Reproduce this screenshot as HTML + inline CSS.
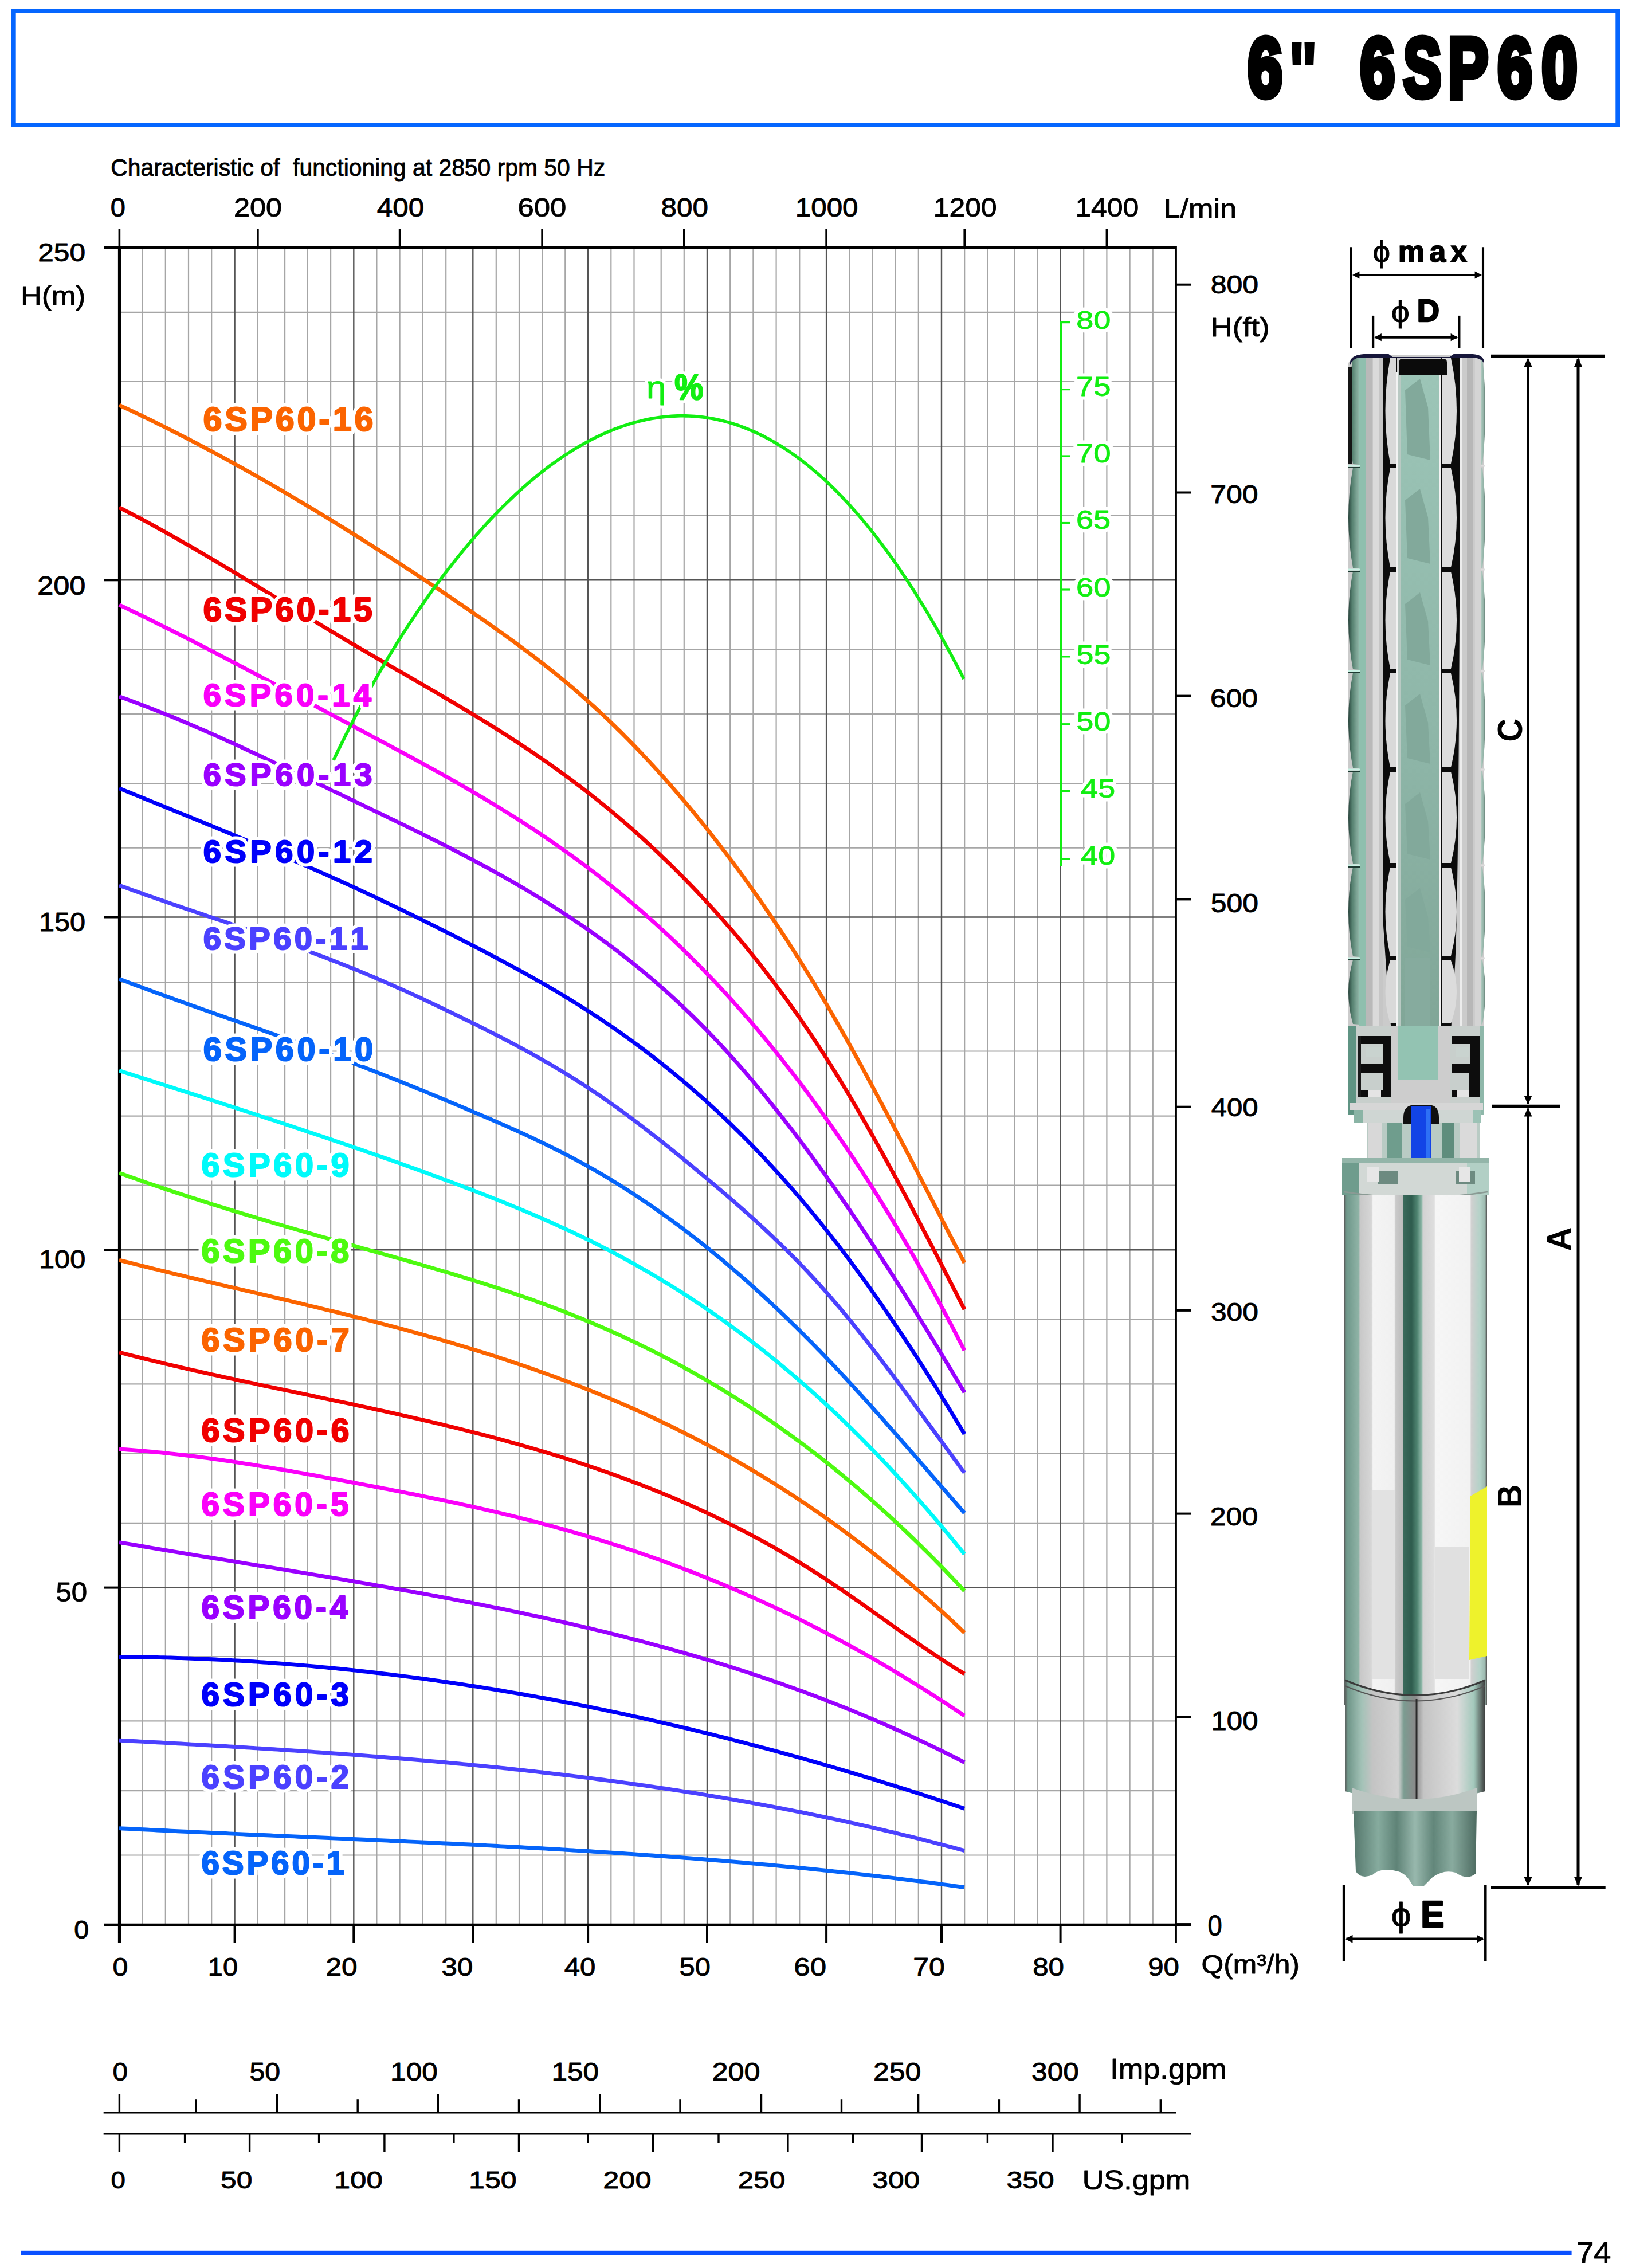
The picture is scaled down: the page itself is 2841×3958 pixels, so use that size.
<!DOCTYPE html>
<html><head><meta charset="utf-8"><title>6" 6SP60</title>
<style>html,body{margin:0;padding:0;background:#fff}svg{display:block}text{font-kerning:none}</style>
</head><body>
<svg xmlns="http://www.w3.org/2000/svg" width="2841" height="3958" viewBox="0 0 2841 3958">
<rect width="2841" height="3958" fill="#fff"/>
<rect x="23.85" y="18.95" width="2799.3" height="199.1" fill="none" stroke="#0566ff" stroke-width="7.7"/>
<line x1="248.7" y1="431.9" x2="248.7" y2="3359" stroke="#a6a6a6" stroke-width="2.2"/>
<line x1="288.8" y1="431.9" x2="288.8" y2="3359" stroke="#a6a6a6" stroke-width="2.2"/>
<line x1="329" y1="431.9" x2="329" y2="3359" stroke="#a6a6a6" stroke-width="2.2"/>
<line x1="369.2" y1="431.9" x2="369.2" y2="3359" stroke="#a6a6a6" stroke-width="2.2"/>
<line x1="449.9" y1="431.9" x2="449.9" y2="3359" stroke="#a6a6a6" stroke-width="2.2"/>
<line x1="497.1" y1="431.9" x2="497.1" y2="3359" stroke="#a6a6a6" stroke-width="2.2"/>
<line x1="536.9" y1="431.9" x2="536.9" y2="3359" stroke="#a6a6a6" stroke-width="2.2"/>
<line x1="577.1" y1="431.9" x2="577.1" y2="3359" stroke="#a6a6a6" stroke-width="2.2"/>
<line x1="657.4" y1="431.9" x2="657.4" y2="3359" stroke="#a6a6a6" stroke-width="2.2"/>
<line x1="697.6" y1="431.9" x2="697.6" y2="3359" stroke="#a6a6a6" stroke-width="2.2"/>
<line x1="737.8" y1="431.9" x2="737.8" y2="3359" stroke="#a6a6a6" stroke-width="2.2"/>
<line x1="778.2" y1="431.9" x2="778.2" y2="3359" stroke="#a6a6a6" stroke-width="2.2"/>
<line x1="865.8" y1="431.9" x2="865.8" y2="3359" stroke="#a6a6a6" stroke-width="2.2"/>
<line x1="906" y1="431.9" x2="906" y2="3359" stroke="#a6a6a6" stroke-width="2.2"/>
<line x1="946.1" y1="431.9" x2="946.1" y2="3359" stroke="#a6a6a6" stroke-width="2.2"/>
<line x1="986.3" y1="431.9" x2="986.3" y2="3359" stroke="#a6a6a6" stroke-width="2.2"/>
<line x1="1066.3" y1="431.9" x2="1066.3" y2="3359" stroke="#a6a6a6" stroke-width="2.2"/>
<line x1="1106.5" y1="431.9" x2="1106.5" y2="3359" stroke="#a6a6a6" stroke-width="2.2"/>
<line x1="1153.7" y1="431.9" x2="1153.7" y2="3359" stroke="#a6a6a6" stroke-width="2.2"/>
<line x1="1193.8" y1="431.9" x2="1193.8" y2="3359" stroke="#a6a6a6" stroke-width="2.2"/>
<line x1="1274.2" y1="431.9" x2="1274.2" y2="3359" stroke="#a6a6a6" stroke-width="2.2"/>
<line x1="1314.4" y1="431.9" x2="1314.4" y2="3359" stroke="#a6a6a6" stroke-width="2.2"/>
<line x1="1354.6" y1="431.9" x2="1354.6" y2="3359" stroke="#a6a6a6" stroke-width="2.2"/>
<line x1="1395.3" y1="431.9" x2="1395.3" y2="3359" stroke="#a6a6a6" stroke-width="2.2"/>
<line x1="1482.3" y1="431.9" x2="1482.3" y2="3359" stroke="#a6a6a6" stroke-width="2.2"/>
<line x1="1522.5" y1="431.9" x2="1522.5" y2="3359" stroke="#a6a6a6" stroke-width="2.2"/>
<line x1="1562.6" y1="431.9" x2="1562.6" y2="3359" stroke="#a6a6a6" stroke-width="2.2"/>
<line x1="1602.8" y1="431.9" x2="1602.8" y2="3359" stroke="#a6a6a6" stroke-width="2.2"/>
<line x1="1683.2" y1="431.9" x2="1683.2" y2="3359" stroke="#a6a6a6" stroke-width="2.2"/>
<line x1="1723.3" y1="431.9" x2="1723.3" y2="3359" stroke="#a6a6a6" stroke-width="2.2"/>
<line x1="1770.3" y1="431.9" x2="1770.3" y2="3359" stroke="#a6a6a6" stroke-width="2.2"/>
<line x1="1810.5" y1="431.9" x2="1810.5" y2="3359" stroke="#a6a6a6" stroke-width="2.2"/>
<line x1="1891.2" y1="431.9" x2="1891.2" y2="3359" stroke="#a6a6a6" stroke-width="2.2"/>
<line x1="1931.4" y1="431.9" x2="1931.4" y2="3359" stroke="#a6a6a6" stroke-width="2.2"/>
<line x1="1971.6" y1="431.9" x2="1971.6" y2="3359" stroke="#a6a6a6" stroke-width="2.2"/>
<line x1="2011.8" y1="431.9" x2="2011.8" y2="3359" stroke="#a6a6a6" stroke-width="2.2"/>
<line x1="207.9" y1="544.9" x2="2052" y2="544.9" stroke="#a6a6a6" stroke-width="2.2"/>
<line x1="207.9" y1="666" x2="2052" y2="666" stroke="#a6a6a6" stroke-width="2.2"/>
<line x1="207.9" y1="779" x2="2052" y2="779" stroke="#a6a6a6" stroke-width="2.2"/>
<line x1="207.9" y1="899.6" x2="2052" y2="899.6" stroke="#a6a6a6" stroke-width="2.2"/>
<line x1="207.9" y1="1133.6" x2="2052" y2="1133.6" stroke="#a6a6a6" stroke-width="2.2"/>
<line x1="207.9" y1="1246" x2="2052" y2="1246" stroke="#a6a6a6" stroke-width="2.2"/>
<line x1="207.9" y1="1367.2" x2="2052" y2="1367.2" stroke="#a6a6a6" stroke-width="2.2"/>
<line x1="207.9" y1="1479.6" x2="2052" y2="1479.6" stroke="#a6a6a6" stroke-width="2.2"/>
<line x1="207.9" y1="1714.4" x2="2052" y2="1714.4" stroke="#a6a6a6" stroke-width="2.2"/>
<line x1="207.9" y1="1834.5" x2="2052" y2="1834.5" stroke="#a6a6a6" stroke-width="2.2"/>
<line x1="207.9" y1="1947.7" x2="2052" y2="1947.7" stroke="#a6a6a6" stroke-width="2.2"/>
<line x1="207.9" y1="2068.6" x2="2052" y2="2068.6" stroke="#a6a6a6" stroke-width="2.2"/>
<line x1="207.9" y1="2302.9" x2="2052" y2="2302.9" stroke="#a6a6a6" stroke-width="2.2"/>
<line x1="207.9" y1="2415.3" x2="2052" y2="2415.3" stroke="#a6a6a6" stroke-width="2.2"/>
<line x1="207.9" y1="2536.2" x2="2052" y2="2536.2" stroke="#a6a6a6" stroke-width="2.2"/>
<line x1="207.9" y1="2657.9" x2="2052" y2="2657.9" stroke="#a6a6a6" stroke-width="2.2"/>
<line x1="207.9" y1="2891" x2="2052" y2="2891" stroke="#a6a6a6" stroke-width="2.2"/>
<line x1="207.9" y1="3003.4" x2="2052" y2="3003.4" stroke="#a6a6a6" stroke-width="2.2"/>
<line x1="207.9" y1="3125.1" x2="2052" y2="3125.1" stroke="#a6a6a6" stroke-width="2.2"/>
<line x1="207.9" y1="3237.5" x2="2052" y2="3237.5" stroke="#a6a6a6" stroke-width="2.2"/>
<line x1="1442.1" y1="431.9" x2="1442.1" y2="3359" stroke="#555555" stroke-width="2.4"/>
<line x1="1026.1" y1="431.9" x2="1026.1" y2="3359" stroke="#555555" stroke-width="2.4"/>
<line x1="617.3" y1="431.9" x2="617.3" y2="3359" stroke="#555555" stroke-width="2.4"/>
<line x1="409.6" y1="431.9" x2="409.6" y2="3359" stroke="#555555" stroke-width="2.4"/>
<line x1="1643" y1="431.9" x2="1643" y2="3359" stroke="#555555" stroke-width="2.4"/>
<line x1="1234" y1="431.9" x2="1234" y2="3359" stroke="#555555" stroke-width="2.4"/>
<line x1="825.3" y1="431.9" x2="825.3" y2="3359" stroke="#555555" stroke-width="2.4"/>
<line x1="1850.6" y1="431.9" x2="1850.6" y2="3359" stroke="#555555" stroke-width="2.4"/>
<line x1="207.9" y1="1600.5" x2="2052" y2="1600.5" stroke="#555555" stroke-width="2.4"/>
<line x1="207.9" y1="2770.6" x2="2052" y2="2770.6" stroke="#555555" stroke-width="2.4"/>
<line x1="207.9" y1="1012.3" x2="2052" y2="1012.3" stroke="#555555" stroke-width="2.4"/>
<line x1="207.9" y1="2181.2" x2="2052" y2="2181.2" stroke="#555555" stroke-width="2.4"/>
<line x1="181.5" y1="431.9" x2="2052" y2="431.9" stroke="#000" stroke-width="4.2"/>
<line x1="181.5" y1="3359" x2="2079" y2="3359" stroke="#000" stroke-width="4.4"/>
<line x1="208.5" y1="429.8" x2="208.5" y2="3391" stroke="#000" stroke-width="5.2"/>
<line x1="2052" y1="429.8" x2="2052" y2="3391" stroke="#000" stroke-width="3.8"/>
<line x1="181.5" y1="1012.3" x2="208" y2="1012.3" stroke="#000" stroke-width="4"/>
<line x1="181.5" y1="1600.5" x2="208" y2="1600.5" stroke="#000" stroke-width="4"/>
<line x1="181.5" y1="2181.2" x2="208" y2="2181.2" stroke="#000" stroke-width="4"/>
<line x1="181.5" y1="2770.6" x2="208" y2="2770.6" stroke="#000" stroke-width="4"/>
<line x1="409.6" y1="3359" x2="409.6" y2="3391" stroke="#000" stroke-width="4"/>
<line x1="617.3" y1="3359" x2="617.3" y2="3391" stroke="#000" stroke-width="4"/>
<line x1="825.3" y1="3359" x2="825.3" y2="3391" stroke="#000" stroke-width="4"/>
<line x1="1026.1" y1="3359" x2="1026.1" y2="3391" stroke="#000" stroke-width="4"/>
<line x1="1234" y1="3359" x2="1234" y2="3391" stroke="#000" stroke-width="4"/>
<line x1="1442.1" y1="3359" x2="1442.1" y2="3391" stroke="#000" stroke-width="4"/>
<line x1="1643" y1="3359" x2="1643" y2="3391" stroke="#000" stroke-width="4"/>
<line x1="1850.6" y1="3359" x2="1850.6" y2="3391" stroke="#000" stroke-width="4"/>
<line x1="208.4" y1="399.9" x2="208.4" y2="432" stroke="#000" stroke-width="3.6"/>
<line x1="449.9" y1="399.9" x2="449.9" y2="432" stroke="#000" stroke-width="3.6"/>
<line x1="697.6" y1="399.9" x2="697.6" y2="432" stroke="#000" stroke-width="3.6"/>
<line x1="946.1" y1="399.9" x2="946.1" y2="432" stroke="#000" stroke-width="3.6"/>
<line x1="1193.8" y1="399.9" x2="1193.8" y2="432" stroke="#000" stroke-width="3.6"/>
<line x1="1442.1" y1="399.9" x2="1442.1" y2="432" stroke="#000" stroke-width="3.6"/>
<line x1="1683.2" y1="399.9" x2="1683.2" y2="432" stroke="#000" stroke-width="3.6"/>
<line x1="1931.4" y1="399.9" x2="1931.4" y2="432" stroke="#000" stroke-width="3.6"/>
<line x1="2052" y1="496.7" x2="2078.8" y2="496.7" stroke="#000" stroke-width="4"/>
<line x1="2052" y1="859.5" x2="2078.8" y2="859.5" stroke="#000" stroke-width="4"/>
<line x1="2052" y1="1214.6" x2="2078.8" y2="1214.6" stroke="#000" stroke-width="4"/>
<line x1="2052" y1="1569.4" x2="2078.8" y2="1569.4" stroke="#000" stroke-width="4"/>
<line x1="2052" y1="1931.7" x2="2078.8" y2="1931.7" stroke="#000" stroke-width="4"/>
<line x1="2052" y1="2286.9" x2="2078.8" y2="2286.9" stroke="#000" stroke-width="4"/>
<line x1="2052" y1="2641.6" x2="2078.8" y2="2641.6" stroke="#000" stroke-width="4"/>
<line x1="2052" y1="2996.1" x2="2078.8" y2="2996.1" stroke="#000" stroke-width="4"/>
<line x1="2052" y1="3358.1" x2="2078.8" y2="3358.1" stroke="#000" stroke-width="4"/>
<polyline points="208,707 214,709.79 220,712.59 226,715.41 232,718.24 238,721.1 244,723.97 250,726.86 256,729.76 262,732.68 268,735.62 274,738.58 280,741.55 286,744.53 292,747.54 298,750.56 304,753.6 310,756.65 316,759.72 322,762.8 328,765.9 334,769.02 340,772.15 346,775.3 352,778.46 358,781.64 364,784.83 370,788.04 376,791.27 382,794.51 388,797.76 394,801.03 400,804.31 406,807.61 412,810.92 418,814.25 424,817.59 430,820.94 436,824.31 442,827.7 448,831.1 454,834.51 460,837.93 466,841.37 472,844.82 478,848.29 484,851.77 490,855.26 496,858.77 502,862.28 508,865.82 514,869.36 520,872.92 526,876.49 532,880.07 538,883.67 544,887.28 550,890.9 556,894.53 562,898.17 568,901.83 574,905.5 580,909.18 586,912.87 592,916.58 598,920.29 604,924.02 610,927.76 616,931.51 622,935.27 628,939.04 634,942.83 640,946.62 646,950.43 652,954.25 658,958.08 664,961.92 670,965.77 676,969.63 682,973.5 688,977.39 694,981.28 700,985.19 706,989.11 712,993.04 718,996.98 724,1000.93 730,1004.9 736,1008.87 742,1012.86 748,1016.85 754,1020.86 760,1024.88 766,1028.91 772,1032.95 778,1037 784,1041.07 790,1045.14 796,1049.23 802,1053.33 808,1057.43 814,1061.55 820,1065.68 826,1069.83 832,1073.98 838,1078.14 844,1082.33 850,1086.52 856,1090.74 862,1094.97 868,1099.22 874,1103.5 880,1107.79 886,1112.12 892,1116.47 898,1120.84 904,1125.25 910,1129.69 916,1134.16 922,1138.66 928,1143.2 934,1147.78 940,1152.39 946,1157.04 952,1161.74 958,1166.48 964,1171.26 970,1176.09 976,1180.97 982,1185.89 988,1190.87 994,1195.89 1000,1200.97 1006,1206.11 1012,1211.3 1018,1216.55 1024,1221.86 1030,1227.23 1036,1232.66 1042,1238.15 1048,1243.71 1054,1249.32 1060,1255 1066,1260.74 1072,1266.54 1078,1272.41 1084,1278.33 1090,1284.32 1096,1290.37 1102,1296.48 1108,1302.66 1114,1308.9 1120,1315.2 1126,1321.56 1132,1327.99 1138,1334.48 1144,1341.03 1150,1347.65 1156,1354.32 1162,1361.07 1168,1367.87 1174,1374.74 1180,1381.68 1186,1388.67 1192,1395.73 1198,1402.86 1204,1410.05 1210,1417.3 1216,1424.61 1222,1432 1228,1439.44 1234,1446.95 1240,1454.53 1246,1462.16 1252,1469.87 1258,1477.64 1264,1485.48 1270,1493.39 1276,1501.37 1282,1509.41 1288,1517.53 1294,1525.72 1300,1533.98 1306,1542.31 1312,1550.71 1318,1559.19 1324,1567.75 1330,1576.38 1336,1585.08 1342,1593.86 1348,1602.72 1354,1611.66 1360,1620.68 1366,1629.77 1372,1638.95 1378,1648.21 1384,1657.54 1390,1666.97 1396,1676.47 1402,1686.06 1408,1695.73 1414,1705.49 1420,1715.34 1426,1725.27 1432,1735.29 1438,1745.4 1444,1755.59 1450,1765.88 1456,1776.25 1462,1786.7 1468,1797.24 1474,1807.85 1480,1818.53 1486,1829.29 1492,1840.11 1498,1851 1504,1861.96 1510,1872.97 1516,1884.04 1522,1895.17 1528,1906.35 1534,1917.57 1540,1928.84 1546,1940.16 1552,1951.52 1558,1962.91 1564,1974.34 1570,1985.8 1576,1997.28 1582,2008.8 1588,2020.34 1594,2031.89 1600,2043.47 1606,2055.06 1612,2066.66 1618,2078.27 1624,2089.89 1630,2101.51 1636,2113.13 1642,2124.75 1648,2136.37 1654,2147.98 1660,2159.57 1666,2171.15 1672,2182.72 1678,2194.26 1683,2203.87" fill="none" stroke="#fb6400" stroke-width="6.9" stroke-linejoin="round"/>
<polyline points="208,885.6 214,888.67 220,891.76 226,894.88 232,898.02 238,901.18 244,904.37 250,907.58 256,910.81 262,914.06 268,917.34 274,920.63 280,923.95 286,927.28 292,930.63 298,934 304,937.39 310,940.79 316,944.21 322,947.65 328,951.1 334,954.57 340,958.05 346,961.55 352,965.06 358,968.58 364,972.11 370,975.66 376,979.21 382,982.78 388,986.36 394,989.94 400,993.54 406,997.14 412,1000.75 418,1004.37 424,1008 430,1011.63 436,1015.26 442,1018.9 448,1022.55 454,1026.2 460,1029.85 466,1033.51 472,1037.17 478,1040.83 484,1044.49 490,1048.15 496,1051.82 502,1055.48 508,1059.14 514,1062.8 520,1066.46 526,1070.11 532,1073.76 538,1077.41 544,1081.06 550,1084.69 556,1088.33 562,1091.96 568,1095.58 574,1099.19 580,1102.8 586,1106.4 592,1109.99 598,1113.57 604,1117.14 610,1120.7 616,1124.25 622,1127.79 628,1131.32 634,1134.84 640,1138.34 646,1141.85 652,1145.34 658,1148.83 664,1152.31 670,1155.78 676,1159.25 682,1162.72 688,1166.19 694,1169.65 700,1173.11 706,1176.58 712,1180.04 718,1183.51 724,1186.97 730,1190.44 736,1193.92 742,1197.4 748,1200.88 754,1204.38 760,1207.87 766,1211.38 772,1214.9 778,1218.42 784,1221.96 790,1225.51 796,1229.07 802,1232.64 808,1236.22 814,1239.83 820,1243.44 826,1247.08 832,1250.73 838,1254.39 844,1258.08 850,1261.79 856,1265.51 862,1269.26 868,1273.03 874,1276.82 880,1280.64 886,1284.48 892,1288.35 898,1292.24 904,1296.16 910,1300.11 916,1304.08 922,1308.09 928,1312.12 934,1316.19 940,1320.29 946,1324.42 952,1328.58 958,1332.78 964,1337.01 970,1341.28 976,1345.59 982,1349.93 988,1354.32 994,1358.74 1000,1363.2 1006,1367.7 1012,1372.25 1018,1376.83 1024,1381.46 1030,1386.14 1036,1390.86 1042,1395.62 1048,1400.43 1054,1405.29 1060,1410.19 1066,1415.14 1072,1420.14 1078,1425.19 1084,1430.28 1090,1435.43 1096,1440.62 1102,1445.87 1108,1451.16 1114,1456.51 1120,1461.91 1126,1467.36 1132,1472.86 1138,1478.42 1144,1484.03 1150,1489.69 1156,1495.41 1162,1501.18 1168,1507.01 1174,1512.9 1180,1518.84 1186,1524.84 1192,1530.9 1198,1537.02 1204,1543.19 1210,1549.42 1216,1555.72 1222,1562.07 1228,1568.49 1234,1574.96 1240,1581.5 1246,1588.1 1252,1594.77 1258,1601.5 1264,1608.29 1270,1615.16 1276,1622.09 1282,1629.1 1288,1636.18 1294,1643.33 1300,1650.55 1306,1657.86 1312,1665.24 1318,1672.69 1324,1680.23 1330,1687.85 1336,1695.55 1342,1703.33 1348,1711.2 1354,1719.16 1360,1727.2 1366,1735.34 1372,1743.56 1378,1751.87 1384,1760.28 1390,1768.78 1396,1777.38 1402,1786.07 1408,1794.86 1414,1803.75 1420,1812.74 1426,1821.83 1432,1831.03 1438,1840.33 1444,1849.73 1450,1859.24 1456,1868.86 1462,1878.57 1468,1888.39 1474,1898.3 1480,1908.3 1486,1918.4 1492,1928.58 1498,1938.85 1504,1949.21 1510,1959.65 1516,1970.16 1522,1980.76 1528,1991.43 1534,2002.17 1540,2012.98 1546,2023.85 1552,2034.8 1558,2045.8 1564,2056.87 1570,2067.99 1576,2079.17 1582,2090.4 1588,2101.69 1594,2113.02 1600,2124.39 1606,2135.81 1612,2147.28 1618,2158.78 1624,2170.31 1630,2181.88 1636,2193.49 1642,2205.12 1648,2216.77 1654,2228.46 1660,2240.16 1666,2251.88 1672,2263.63 1678,2275.38 1683,2285.19" fill="none" stroke="#f00000" stroke-width="6.9" stroke-linejoin="round"/>
<polyline points="208,1055.53 214,1058.39 220,1061.25 226,1064.13 232,1067.02 238,1069.92 244,1072.83 250,1075.75 256,1078.69 262,1081.64 268,1084.6 274,1087.57 280,1090.55 286,1093.54 292,1096.54 298,1099.55 304,1102.57 310,1105.6 316,1108.64 322,1111.68 328,1114.74 334,1117.8 340,1120.88 346,1123.96 352,1127.05 358,1130.14 364,1133.25 370,1136.36 376,1139.48 382,1142.6 388,1145.73 394,1148.87 400,1152.01 406,1155.16 412,1158.32 418,1161.48 424,1164.64 430,1167.81 436,1170.99 442,1174.16 448,1177.35 454,1180.53 460,1183.73 466,1186.92 472,1190.12 478,1193.32 484,1196.52 490,1199.73 496,1202.93 502,1206.14 508,1209.36 514,1212.57 520,1215.78 526,1219 532,1222.22 538,1225.44 544,1228.65 550,1231.87 556,1235.09 562,1238.31 568,1241.53 574,1244.75 580,1247.96 586,1251.18 592,1254.39 598,1257.61 604,1260.82 610,1264.03 616,1267.23 622,1270.44 628,1273.64 634,1276.84 640,1280.04 646,1283.24 652,1286.44 658,1289.64 664,1292.85 670,1296.05 676,1299.26 682,1302.48 688,1305.69 694,1308.92 700,1312.15 706,1315.38 712,1318.62 718,1321.87 724,1325.13 730,1328.4 736,1331.68 742,1334.96 748,1338.26 754,1341.57 760,1344.89 766,1348.23 772,1351.57 778,1354.94 784,1358.31 790,1361.7 796,1365.11 802,1368.54 808,1371.98 814,1375.44 820,1378.92 826,1382.42 832,1385.93 838,1389.47 844,1393.03 850,1396.61 856,1400.22 862,1403.84 868,1407.5 874,1411.17 880,1414.87 886,1418.6 892,1422.35 898,1426.13 904,1429.94 910,1433.77 916,1437.63 922,1441.53 928,1445.45 934,1449.41 940,1453.39 946,1457.41 952,1461.46 958,1465.55 964,1469.66 970,1473.82 976,1478.01 982,1482.23 988,1486.49 994,1490.79 1000,1495.12 1006,1499.5 1012,1503.91 1018,1508.37 1024,1512.86 1030,1517.4 1036,1521.97 1042,1526.59 1048,1531.25 1054,1535.96 1060,1540.71 1066,1545.5 1072,1550.33 1078,1555.21 1084,1560.14 1090,1565.11 1096,1570.13 1102,1575.19 1108,1580.31 1114,1585.46 1120,1590.67 1126,1595.93 1132,1601.23 1138,1606.58 1144,1611.99 1150,1617.44 1156,1622.94 1162,1628.5 1168,1634.1 1174,1639.76 1180,1645.47 1186,1651.23 1192,1657.05 1198,1662.92 1204,1668.84 1210,1674.82 1216,1680.86 1222,1686.95 1228,1693.09 1234,1699.29 1240,1705.55 1246,1711.87 1252,1718.24 1258,1724.67 1264,1731.16 1270,1737.71 1276,1744.32 1282,1750.99 1288,1757.72 1294,1764.51 1300,1771.36 1306,1778.27 1312,1785.25 1318,1792.29 1324,1799.39 1330,1806.55 1336,1813.78 1342,1821.07 1348,1828.43 1354,1835.85 1360,1843.34 1366,1850.9 1372,1858.52 1378,1866.21 1384,1873.97 1390,1881.79 1396,1889.68 1402,1897.65 1408,1905.68 1414,1913.78 1420,1921.95 1426,1930.19 1432,1938.5 1438,1946.89 1444,1955.35 1450,1963.88 1456,1972.48 1462,1981.15 1468,1989.9 1474,1998.73 1480,2007.63 1486,2016.6 1492,2025.66 1498,2034.78 1504,2043.99 1510,2053.27 1516,2062.64 1522,2072.08 1528,2081.6 1534,2091.2 1540,2100.88 1546,2110.64 1552,2120.48 1558,2130.41 1564,2140.42 1570,2150.51 1576,2160.68 1582,2170.94 1588,2181.29 1594,2191.72 1600,2202.23 1606,2212.83 1612,2223.52 1618,2234.29 1624,2245.16 1630,2256.11 1636,2267.15 1642,2278.28 1648,2289.5 1654,2300.81 1660,2312.22 1666,2323.71 1672,2335.3 1678,2346.97 1683,2356.78" fill="none" stroke="#fa00fa" stroke-width="6.9" stroke-linejoin="round"/>
<polyline points="208,1215.57 214,1217.71 220,1219.87 226,1222.06 232,1224.27 238,1226.51 244,1228.76 250,1231.05 256,1233.35 262,1235.67 268,1238.02 274,1240.39 280,1242.78 286,1245.19 292,1247.62 298,1250.06 304,1252.53 310,1255.02 316,1257.52 322,1260.04 328,1262.58 334,1265.14 340,1267.71 346,1270.3 352,1272.91 358,1275.53 364,1278.16 370,1280.81 376,1283.47 382,1286.15 388,1288.84 394,1291.55 400,1294.26 406,1296.99 412,1299.73 418,1302.48 424,1305.25 430,1308.02 436,1310.8 442,1313.59 448,1316.4 454,1319.21 460,1322.03 466,1324.85 472,1327.69 478,1330.53 484,1333.38 490,1336.23 496,1339.1 502,1341.96 508,1344.83 514,1347.71 520,1350.59 526,1353.48 532,1356.37 538,1359.26 544,1362.15 550,1365.05 556,1367.95 562,1370.85 568,1373.75 574,1376.66 580,1379.56 586,1382.46 592,1385.36 598,1388.26 604,1391.16 610,1394.06 616,1396.96 622,1399.85 628,1402.74 634,1405.64 640,1408.52 646,1411.41 652,1414.3 658,1417.2 664,1420.09 670,1422.98 676,1425.88 682,1428.78 688,1431.69 694,1434.6 700,1437.52 706,1440.44 712,1443.37 718,1446.31 724,1449.25 730,1452.21 736,1455.17 742,1458.14 748,1461.13 754,1464.12 760,1467.13 766,1470.15 772,1473.18 778,1476.23 784,1479.29 790,1482.37 796,1485.46 802,1488.57 808,1491.7 814,1494.84 820,1498 826,1501.18 832,1504.38 838,1507.6 844,1510.84 850,1514.1 856,1517.39 862,1520.7 868,1524.03 874,1527.38 880,1530.76 886,1534.17 892,1537.6 898,1541.05 904,1544.54 910,1548.05 916,1551.59 922,1555.16 928,1558.76 934,1562.39 940,1566.05 946,1569.74 952,1573.47 958,1577.22 964,1581.02 970,1584.84 976,1588.7 982,1592.6 988,1596.53 994,1600.5 1000,1604.5 1006,1608.54 1012,1612.63 1018,1616.75 1024,1620.91 1030,1625.11 1036,1629.35 1042,1633.64 1048,1637.97 1054,1642.34 1060,1646.76 1066,1651.22 1072,1655.73 1078,1660.29 1084,1664.9 1090,1669.56 1096,1674.27 1102,1679.03 1108,1683.84 1114,1688.7 1120,1693.62 1126,1698.6 1132,1703.63 1138,1708.72 1144,1713.87 1150,1719.07 1156,1724.34 1162,1729.66 1168,1735.05 1174,1740.5 1180,1746.02 1186,1751.6 1192,1757.24 1198,1762.95 1204,1768.73 1210,1774.58 1216,1780.5 1222,1786.48 1228,1792.54 1234,1798.67 1240,1804.87 1246,1811.15 1252,1817.49 1258,1823.91 1264,1830.4 1270,1836.96 1276,1843.59 1282,1850.29 1288,1857.07 1294,1863.9 1300,1870.81 1306,1877.79 1312,1884.83 1318,1891.94 1324,1899.12 1330,1906.36 1336,1913.67 1342,1921.05 1348,1928.49 1354,1936 1360,1943.56 1366,1951.2 1372,1958.89 1378,1966.65 1384,1974.47 1390,1982.36 1396,1990.3 1402,1998.31 1408,2006.37 1414,2014.5 1420,2022.69 1426,2030.93 1432,2039.23 1438,2047.6 1444,2056.02 1450,2064.5 1456,2073.03 1462,2081.62 1468,2090.27 1474,2098.97 1480,2107.72 1486,2116.53 1492,2125.38 1498,2134.29 1504,2143.25 1510,2152.26 1516,2161.32 1522,2170.43 1528,2179.58 1534,2188.78 1540,2198.03 1546,2207.32 1552,2216.65 1558,2226.03 1564,2235.45 1570,2244.92 1576,2254.42 1582,2263.97 1588,2273.55 1594,2283.18 1600,2292.84 1606,2302.54 1612,2312.27 1618,2322.05 1624,2331.85 1630,2341.69 1636,2351.57 1642,2361.47 1648,2371.41 1654,2381.38 1660,2391.38 1666,2401.41 1672,2411.47 1678,2421.56 1683,2429.99" fill="none" stroke="#9a00ff" stroke-width="6.9" stroke-linejoin="round"/>
<polyline points="208,1375.71 214,1378.16 220,1380.6 226,1383.04 232,1385.48 238,1387.92 244,1390.35 250,1392.79 256,1395.23 262,1397.66 268,1400.1 274,1402.53 280,1404.97 286,1407.41 292,1409.84 298,1412.28 304,1414.72 310,1417.16 316,1419.6 322,1422.05 328,1424.49 334,1426.94 340,1429.39 346,1431.84 352,1434.29 358,1436.75 364,1439.21 370,1441.67 376,1444.14 382,1446.61 388,1449.08 394,1451.56 400,1454.04 406,1456.53 412,1459.02 418,1461.51 424,1464.01 430,1466.52 436,1469.03 442,1471.54 448,1474.06 454,1476.59 460,1479.12 466,1481.66 472,1484.21 478,1486.76 484,1489.32 490,1491.88 496,1494.46 502,1497.04 508,1499.63 514,1502.22 520,1504.82 526,1507.44 532,1510.06 538,1512.68 544,1515.32 550,1517.97 556,1520.62 562,1523.29 568,1525.96 574,1528.64 580,1531.34 586,1534.04 592,1536.75 598,1539.48 604,1542.21 610,1544.96 616,1547.71 622,1550.48 628,1553.26 634,1556.05 640,1558.85 646,1561.66 652,1564.48 658,1567.31 664,1570.16 670,1573.01 676,1575.88 682,1578.75 688,1581.64 694,1584.53 700,1587.44 706,1590.35 712,1593.28 718,1596.21 724,1599.16 730,1602.12 736,1605.08 742,1608.05 748,1611.04 754,1614.03 760,1617.03 766,1620.05 772,1623.07 778,1626.1 784,1629.14 790,1632.18 796,1635.24 802,1638.31 808,1641.38 814,1644.46 820,1647.55 826,1650.65 832,1653.76 838,1656.88 844,1660.01 850,1663.15 856,1666.3 862,1669.46 868,1672.64 874,1675.83 880,1679.03 886,1682.26 892,1685.5 898,1688.75 904,1692.03 910,1695.33 916,1698.64 922,1701.98 928,1705.34 934,1708.72 940,1712.13 946,1715.56 952,1719.02 958,1722.5 964,1726.01 970,1729.55 976,1733.12 982,1736.71 988,1740.34 994,1744 1000,1747.69 1006,1751.41 1012,1755.17 1018,1758.97 1024,1762.79 1030,1766.66 1036,1770.56 1042,1774.5 1048,1778.48 1054,1782.5 1060,1786.55 1066,1790.65 1072,1794.79 1078,1798.96 1084,1803.18 1090,1807.44 1096,1811.74 1102,1816.08 1108,1820.46 1114,1824.89 1120,1829.37 1126,1833.88 1132,1838.45 1138,1843.05 1144,1847.71 1150,1852.4 1156,1857.15 1162,1861.94 1168,1866.78 1174,1871.67 1180,1876.61 1186,1881.6 1192,1886.63 1198,1891.72 1204,1896.85 1210,1902.04 1216,1907.28 1222,1912.57 1228,1917.91 1234,1923.31 1240,1928.76 1246,1934.26 1252,1939.82 1258,1945.43 1264,1951.1 1270,1956.82 1276,1962.6 1282,1968.44 1288,1974.33 1294,1980.29 1300,1986.29 1306,1992.36 1312,1998.49 1318,2004.68 1324,2010.92 1330,2017.23 1336,2023.6 1342,2030.03 1348,2036.52 1354,2043.07 1360,2049.69 1366,2056.37 1372,2063.12 1378,2069.92 1384,2076.8 1390,2083.74 1396,2090.74 1402,2097.81 1408,2104.95 1414,2112.15 1420,2119.43 1426,2126.77 1432,2134.18 1438,2141.65 1444,2149.2 1450,2156.82 1456,2164.51 1462,2172.26 1468,2180.09 1474,2187.98 1480,2195.94 1486,2203.97 1492,2212.07 1498,2220.23 1504,2228.46 1510,2236.75 1516,2245.11 1522,2253.54 1528,2262.03 1534,2270.58 1540,2279.2 1546,2287.88 1552,2296.63 1558,2305.44 1564,2314.31 1570,2323.24 1576,2332.24 1582,2341.3 1588,2350.41 1594,2359.59 1600,2368.83 1606,2378.13 1612,2387.49 1618,2396.91 1624,2406.39 1630,2415.92 1636,2425.51 1642,2435.17 1648,2444.87 1654,2454.64 1660,2464.46 1666,2474.34 1672,2484.27 1678,2494.26 1683,2502.63" fill="none" stroke="#0000fa" stroke-width="6.9" stroke-linejoin="round"/>
<polyline points="208,1545 214,1547.19 220,1549.36 226,1551.52 232,1553.67 238,1555.8 244,1557.93 250,1560.05 256,1562.16 262,1564.27 268,1566.36 274,1568.45 280,1570.53 286,1572.6 292,1574.67 298,1576.73 304,1578.79 310,1580.84 316,1582.88 322,1584.93 328,1586.97 334,1589.01 340,1591.04 346,1593.08 352,1595.11 358,1597.14 364,1599.17 370,1601.2 376,1603.23 382,1605.26 388,1607.3 394,1609.33 400,1611.37 406,1613.41 412,1615.46 418,1617.5 424,1619.56 430,1621.61 436,1623.67 442,1625.74 448,1627.81 454,1629.89 460,1631.98 466,1634.07 472,1636.18 478,1638.29 484,1640.41 490,1642.54 496,1644.67 502,1646.82 508,1648.98 514,1651.15 520,1653.34 526,1655.53 532,1657.74 538,1659.96 544,1662.19 550,1664.44 556,1666.7 562,1668.98 568,1671.27 574,1673.58 580,1675.91 586,1678.25 592,1680.61 598,1682.98 604,1685.38 610,1687.79 616,1690.22 622,1692.68 628,1695.15 634,1697.64 640,1700.15 646,1702.68 652,1705.22 658,1707.79 664,1710.37 670,1712.97 676,1715.59 682,1718.23 688,1720.88 694,1723.55 700,1726.23 706,1728.93 712,1731.65 718,1734.38 724,1737.13 730,1739.9 736,1742.68 742,1745.47 748,1748.28 754,1751.1 760,1753.94 766,1756.79 772,1759.65 778,1762.52 784,1765.41 790,1768.32 796,1771.23 802,1774.16 808,1777.09 814,1780.04 820,1783 826,1785.98 832,1788.96 838,1791.96 844,1794.97 850,1797.99 856,1801.03 862,1804.08 868,1807.16 874,1810.25 880,1813.36 886,1816.49 892,1819.65 898,1822.82 904,1826.03 910,1829.25 916,1832.51 922,1835.79 928,1839.1 934,1842.44 940,1845.81 946,1849.21 952,1852.64 958,1856.11 964,1859.61 970,1863.15 976,1866.73 982,1870.34 988,1874 994,1877.69 1000,1881.43 1006,1885.21 1012,1889.03 1018,1892.9 1024,1896.81 1030,1900.77 1036,1904.78 1042,1908.83 1048,1912.93 1054,1917.08 1060,1921.26 1066,1925.49 1072,1929.76 1078,1934.06 1084,1938.41 1090,1942.8 1096,1947.22 1102,1951.68 1108,1956.18 1114,1960.71 1120,1965.27 1126,1969.87 1132,1974.5 1138,1979.16 1144,1983.85 1150,1988.57 1156,1993.31 1162,1998.09 1168,2002.89 1174,2007.71 1180,2012.56 1186,2017.43 1192,2022.33 1198,2027.25 1204,2032.18 1210,2037.14 1216,2042.12 1222,2047.11 1228,2052.12 1234,2057.15 1240,2062.19 1246,2067.25 1252,2072.33 1258,2077.43 1264,2082.55 1270,2087.7 1276,2092.88 1282,2098.08 1288,2103.32 1294,2108.59 1300,2113.9 1306,2119.24 1312,2124.63 1318,2130.06 1324,2135.53 1330,2141.05 1336,2146.62 1342,2152.24 1348,2157.91 1354,2163.63 1360,2169.42 1366,2175.26 1372,2181.16 1378,2187.13 1384,2193.16 1390,2199.26 1396,2205.43 1402,2211.67 1408,2217.99 1414,2224.38 1420,2230.85 1426,2237.39 1432,2244.02 1438,2250.74 1444,2257.54 1450,2264.43 1456,2271.4 1462,2278.46 1468,2285.59 1474,2292.8 1480,2300.08 1486,2307.43 1492,2314.85 1498,2322.33 1504,2329.88 1510,2337.49 1516,2345.15 1522,2352.87 1528,2360.63 1534,2368.45 1540,2376.31 1546,2384.22 1552,2392.16 1558,2400.15 1564,2408.17 1570,2416.22 1576,2424.29 1582,2432.4 1588,2440.53 1594,2448.68 1600,2456.85 1606,2465.03 1612,2473.23 1618,2481.44 1624,2489.65 1630,2497.87 1636,2506.1 1642,2514.32 1648,2522.53 1654,2530.74 1660,2538.94 1666,2547.13 1672,2555.31 1678,2563.47 1683,2570.25" fill="none" stroke="#4b41ff" stroke-width="6.9" stroke-linejoin="round"/>
<polyline points="208,1708.32 214,1710.61 220,1712.88 226,1715.15 232,1717.4 238,1719.65 244,1721.88 250,1724.11 256,1726.32 262,1728.53 268,1730.73 274,1732.93 280,1735.11 286,1737.29 292,1739.46 298,1741.62 304,1743.78 310,1745.93 316,1748.07 322,1750.21 328,1752.35 334,1754.48 340,1756.6 346,1758.72 352,1760.84 358,1762.96 364,1765.07 370,1767.18 376,1769.28 382,1771.39 388,1773.49 394,1775.59 400,1777.69 406,1779.79 412,1781.88 418,1783.98 424,1786.08 430,1788.18 436,1790.28 442,1792.38 448,1794.48 454,1796.58 460,1798.68 466,1800.79 472,1802.9 478,1805.01 484,1807.13 490,1809.25 496,1811.37 502,1813.5 508,1815.64 514,1817.77 520,1819.92 526,1822.07 532,1824.22 538,1826.38 544,1828.55 550,1830.72 556,1832.9 562,1835.09 568,1837.29 574,1839.49 580,1841.71 586,1843.93 592,1846.16 598,1848.4 604,1850.65 610,1852.91 616,1855.18 622,1857.46 628,1859.76 634,1862.06 640,1864.37 646,1866.7 652,1869.03 658,1871.37 664,1873.73 670,1876.09 676,1878.46 682,1880.84 688,1883.23 694,1885.63 700,1888.04 706,1890.45 712,1892.88 718,1895.31 724,1897.75 730,1900.2 736,1902.66 742,1905.12 748,1907.59 754,1910.07 760,1912.56 766,1915.05 772,1917.55 778,1920.06 784,1922.57 790,1925.09 796,1927.62 802,1930.15 808,1932.69 814,1935.23 820,1937.78 826,1940.33 832,1942.89 838,1945.46 844,1948.03 850,1950.61 856,1953.2 862,1955.81 868,1958.42 874,1961.05 880,1963.69 886,1966.35 892,1969.03 898,1971.72 904,1974.43 910,1977.16 916,1979.91 922,1982.69 928,1985.49 934,1988.31 940,1991.16 946,1994.03 952,1996.93 958,1999.86 964,2002.82 970,2005.82 976,2008.84 982,2011.9 988,2014.99 994,2018.12 1000,2021.28 1006,2024.49 1012,2027.73 1018,2031.01 1024,2034.33 1030,2037.7 1036,2041.1 1042,2044.55 1048,2048.05 1054,2051.58 1060,2055.16 1066,2058.78 1072,2062.44 1078,2066.15 1084,2069.9 1090,2073.69 1096,2077.52 1102,2081.39 1108,2085.31 1114,2089.27 1120,2093.27 1126,2097.32 1132,2101.41 1138,2105.53 1144,2109.71 1150,2113.92 1156,2118.17 1162,2122.47 1168,2126.81 1174,2131.19 1180,2135.62 1186,2140.08 1192,2144.59 1198,2149.14 1204,2153.74 1210,2158.37 1216,2163.05 1222,2167.76 1228,2172.52 1234,2177.33 1240,2182.17 1246,2187.06 1252,2191.98 1258,2196.95 1264,2201.96 1270,2207.02 1276,2212.11 1282,2217.25 1288,2222.43 1294,2227.65 1300,2232.91 1306,2238.21 1312,2243.55 1318,2248.94 1324,2254.37 1330,2259.84 1336,2265.35 1342,2270.9 1348,2276.49 1354,2282.13 1360,2287.8 1366,2293.52 1372,2299.28 1378,2305.08 1384,2310.92 1390,2316.8 1396,2322.73 1402,2328.69 1408,2334.7 1414,2340.75 1420,2346.84 1426,2352.97 1432,2359.14 1438,2365.35 1444,2371.6 1450,2377.9 1456,2384.23 1462,2390.6 1468,2397.01 1474,2403.45 1480,2409.93 1486,2416.44 1492,2422.99 1498,2429.56 1504,2436.16 1510,2442.79 1516,2449.45 1522,2456.13 1528,2462.84 1534,2469.57 1540,2476.32 1546,2483.09 1552,2489.88 1558,2496.69 1564,2503.52 1570,2510.36 1576,2517.21 1582,2524.08 1588,2530.96 1594,2537.85 1600,2544.75 1606,2551.65 1612,2558.56 1618,2565.48 1624,2572.4 1630,2579.33 1636,2586.25 1642,2593.18 1648,2600.1 1654,2607.02 1660,2613.94 1666,2620.85 1672,2627.76 1678,2634.66 1683,2640.4" fill="none" stroke="#0564fa" stroke-width="6.9" stroke-linejoin="round"/>
<polyline points="208,1868.4 214,1870.31 220,1872.23 226,1874.14 232,1876.05 238,1877.96 244,1879.87 250,1881.78 256,1883.7 262,1885.61 268,1887.52 274,1889.44 280,1891.35 286,1893.27 292,1895.18 298,1897.1 304,1899.02 310,1900.94 316,1902.86 322,1904.78 328,1906.7 334,1908.62 340,1910.55 346,1912.47 352,1914.4 358,1916.33 364,1918.26 370,1920.19 376,1922.13 382,1924.06 388,1926 394,1927.94 400,1929.88 406,1931.83 412,1933.77 418,1935.72 424,1937.67 430,1939.62 436,1941.58 442,1943.53 448,1945.49 454,1947.46 460,1949.42 466,1951.39 472,1953.36 478,1955.33 484,1957.31 490,1959.29 496,1961.27 502,1963.25 508,1965.24 514,1967.23 520,1969.23 526,1971.23 532,1973.23 538,1975.23 544,1977.24 550,1979.26 556,1981.27 562,1983.29 568,1985.32 574,1987.34 580,1989.38 586,1991.41 592,1993.45 598,1995.5 604,1997.54 610,1999.6 616,2001.65 622,2003.71 628,2005.78 634,2007.85 640,2009.93 646,2012.01 652,2014.09 658,2016.18 664,2018.28 670,2020.38 676,2022.49 682,2024.61 688,2026.73 694,2028.85 700,2030.99 706,2033.13 712,2035.27 718,2037.42 724,2039.59 730,2041.75 736,2043.93 742,2046.11 748,2048.3 754,2050.5 760,2052.7 766,2054.92 772,2057.14 778,2059.37 784,2061.61 790,2063.86 796,2066.11 802,2068.38 808,2070.66 814,2072.94 820,2075.23 826,2077.54 832,2079.85 838,2082.18 844,2084.51 850,2086.86 856,2089.22 862,2091.59 868,2093.97 874,2096.37 880,2098.78 886,2101.21 892,2103.66 898,2106.12 904,2108.59 910,2111.09 916,2113.6 922,2116.13 928,2118.68 934,2121.24 940,2123.83 946,2126.44 952,2129.07 958,2131.72 964,2134.4 970,2137.09 976,2139.81 982,2142.56 988,2145.33 994,2148.12 1000,2150.94 1006,2153.78 1012,2156.66 1018,2159.56 1024,2162.48 1030,2165.44 1036,2168.43 1042,2171.44 1048,2174.48 1054,2177.56 1060,2180.66 1066,2183.79 1072,2186.96 1078,2190.15 1084,2193.38 1090,2196.63 1096,2199.92 1102,2203.24 1108,2206.59 1114,2209.97 1120,2213.39 1126,2216.84 1132,2220.32 1138,2223.83 1144,2227.38 1150,2230.96 1156,2234.58 1162,2238.23 1168,2241.92 1174,2245.63 1180,2249.39 1186,2253.18 1192,2257 1198,2260.86 1204,2264.76 1210,2268.7 1216,2272.66 1222,2276.67 1228,2280.72 1234,2284.8 1240,2288.91 1246,2293.07 1252,2297.27 1258,2301.5 1264,2305.77 1270,2310.08 1276,2314.43 1282,2318.82 1288,2323.25 1294,2327.72 1300,2332.22 1306,2336.77 1312,2341.36 1318,2345.99 1324,2350.66 1330,2355.38 1336,2360.13 1342,2364.93 1348,2369.77 1354,2374.65 1360,2379.57 1366,2384.54 1372,2389.55 1378,2394.6 1384,2399.7 1390,2404.84 1396,2410.03 1402,2415.26 1408,2420.53 1414,2425.85 1420,2431.22 1426,2436.63 1432,2442.08 1438,2447.59 1444,2453.14 1450,2458.73 1456,2464.37 1462,2470.06 1468,2475.8 1474,2481.58 1480,2487.4 1486,2493.28 1492,2499.2 1498,2505.17 1504,2511.18 1510,2517.24 1516,2523.35 1522,2529.51 1528,2535.71 1534,2541.96 1540,2548.25 1546,2554.59 1552,2560.98 1558,2567.42 1564,2573.9 1570,2580.43 1576,2587 1582,2593.63 1588,2600.3 1594,2607.01 1600,2613.78 1606,2620.59 1612,2627.45 1618,2634.35 1624,2641.3 1630,2648.3 1636,2655.35 1642,2662.44 1648,2669.59 1654,2676.77 1660,2684.01 1666,2691.29 1672,2698.62 1678,2706 1683,2712.18" fill="none" stroke="#00fafa" stroke-width="6.9" stroke-linejoin="round"/>
<polyline points="208,2046.93 214,2049.09 220,2051.24 226,2053.38 232,2055.51 238,2057.62 244,2059.72 250,2061.81 256,2063.89 262,2065.96 268,2068.01 274,2070.06 280,2072.09 286,2074.12 292,2076.13 298,2078.13 304,2080.12 310,2082.11 316,2084.08 322,2086.04 328,2088 334,2089.94 340,2091.88 346,2093.8 352,2095.72 358,2097.63 364,2099.53 370,2101.42 376,2103.31 382,2105.18 388,2107.05 394,2108.91 400,2110.76 406,2112.6 412,2114.44 418,2116.27 424,2118.09 430,2119.91 436,2121.72 442,2123.52 448,2125.32 454,2127.11 460,2128.89 466,2130.67 472,2132.44 478,2134.21 484,2135.97 490,2137.73 496,2139.48 502,2141.23 508,2142.97 514,2144.71 520,2146.44 526,2148.17 532,2149.89 538,2151.61 544,2153.33 550,2155.04 556,2156.75 562,2158.45 568,2160.16 574,2161.86 580,2163.55 586,2165.25 592,2166.94 598,2168.63 604,2170.31 610,2172 616,2173.68 622,2175.36 628,2177.04 634,2178.72 640,2180.39 646,2182.07 652,2183.75 658,2185.43 664,2187.11 670,2188.79 676,2190.47 682,2192.15 688,2193.84 694,2195.53 700,2197.23 706,2198.92 712,2200.62 718,2202.33 724,2204.04 730,2205.76 736,2207.48 742,2209.21 748,2210.95 754,2212.69 760,2214.44 766,2216.2 772,2217.96 778,2219.74 784,2221.52 790,2223.32 796,2225.12 802,2226.93 808,2228.76 814,2230.59 820,2232.44 826,2234.3 832,2236.17 838,2238.05 844,2239.95 850,2241.86 856,2243.79 862,2245.73 868,2247.68 874,2249.65 880,2251.63 886,2253.63 892,2255.65 898,2257.69 904,2259.74 910,2261.8 916,2263.89 922,2266 928,2268.12 934,2270.26 940,2272.42 946,2274.61 952,2276.81 958,2279.03 964,2281.28 970,2283.55 976,2285.83 982,2288.14 988,2290.48 994,2292.84 1000,2295.22 1006,2297.62 1012,2300.05 1018,2302.51 1024,2304.98 1030,2307.49 1036,2310.02 1042,2312.58 1048,2315.16 1054,2317.77 1060,2320.41 1066,2323.07 1072,2325.76 1078,2328.48 1084,2331.23 1090,2334 1096,2336.8 1102,2339.63 1108,2342.49 1114,2345.37 1120,2348.29 1126,2351.23 1132,2354.2 1138,2357.2 1144,2360.23 1150,2363.29 1156,2366.39 1162,2369.51 1168,2372.66 1174,2375.84 1180,2379.05 1186,2382.29 1192,2385.56 1198,2388.87 1204,2392.2 1210,2395.57 1216,2398.97 1222,2402.4 1228,2405.86 1234,2409.35 1240,2412.88 1246,2416.44 1252,2420.03 1258,2423.66 1264,2427.32 1270,2431.01 1276,2434.73 1282,2438.49 1288,2442.29 1294,2446.12 1300,2449.98 1306,2453.87 1312,2457.81 1318,2461.77 1324,2465.77 1330,2469.81 1336,2473.88 1342,2477.99 1348,2482.13 1354,2486.31 1360,2490.53 1366,2494.78 1372,2499.07 1378,2503.4 1384,2507.76 1390,2512.16 1396,2516.6 1402,2521.08 1408,2525.59 1414,2530.14 1420,2534.73 1426,2539.36 1432,2544.03 1438,2548.73 1444,2553.48 1450,2558.26 1456,2563.08 1462,2567.95 1468,2572.85 1474,2577.79 1480,2582.77 1486,2587.79 1492,2592.86 1498,2597.96 1504,2603.11 1510,2608.29 1516,2613.52 1522,2618.79 1528,2624.1 1534,2629.45 1540,2634.84 1546,2640.28 1552,2645.76 1558,2651.28 1564,2656.84 1570,2662.45 1576,2668.1 1582,2673.79 1588,2679.53 1594,2685.31 1600,2691.13 1606,2697 1612,2702.92 1618,2708.87 1624,2714.88 1630,2720.92 1636,2727.02 1642,2733.15 1648,2739.34 1654,2745.57 1660,2751.84 1666,2758.16 1672,2764.53 1678,2770.94 1683,2776.32" fill="none" stroke="#4dfa10" stroke-width="6.9" stroke-linejoin="round"/>
<polyline points="208,2199.03 214,2200.56 220,2202.08 226,2203.6 232,2205.11 238,2206.61 244,2208.11 250,2209.6 256,2211.09 262,2212.57 268,2214.04 274,2215.51 280,2216.98 286,2218.44 292,2219.89 298,2221.34 304,2222.79 310,2224.23 316,2225.67 322,2227.11 328,2228.54 334,2229.97 340,2231.39 346,2232.81 352,2234.23 358,2235.65 364,2237.07 370,2238.48 376,2239.89 382,2241.3 388,2242.71 394,2244.12 400,2245.52 406,2246.93 412,2248.33 418,2249.74 424,2251.14 430,2252.55 436,2253.95 442,2255.36 448,2256.76 454,2258.17 460,2259.57 466,2260.98 472,2262.39 478,2263.8 484,2265.21 490,2266.63 496,2268.04 502,2269.46 508,2270.88 514,2272.31 520,2273.73 526,2275.16 532,2276.6 538,2278.03 544,2279.48 550,2280.92 556,2282.37 562,2283.82 568,2285.28 574,2286.74 580,2288.21 586,2289.68 592,2291.16 598,2292.64 604,2294.13 610,2295.62 616,2297.12 622,2298.63 628,2300.14 634,2301.66 640,2303.19 646,2304.72 652,2306.27 658,2307.81 664,2309.37 670,2310.93 676,2312.51 682,2314.09 688,2315.68 694,2317.27 700,2318.88 706,2320.5 712,2322.12 718,2323.75 724,2325.4 730,2327.05 736,2328.72 742,2330.39 748,2332.07 754,2333.77 760,2335.47 766,2337.19 772,2338.92 778,2340.66 784,2342.41 790,2344.17 796,2345.95 802,2347.73 808,2349.53 814,2351.35 820,2353.17 826,2355.01 832,2356.86 838,2358.72 844,2360.6 850,2362.49 856,2364.4 862,2366.32 868,2368.25 874,2370.2 880,2372.17 886,2374.15 892,2376.14 898,2378.15 904,2380.17 910,2382.22 916,2384.27 922,2386.35 928,2388.43 934,2390.54 940,2392.66 946,2394.8 952,2396.96 958,2399.13 964,2401.32 970,2403.53 976,2405.76 982,2408.01 988,2410.27 994,2412.55 1000,2414.85 1006,2417.17 1012,2419.51 1018,2421.87 1024,2424.25 1030,2426.65 1036,2429.06 1042,2431.5 1048,2433.96 1054,2436.44 1060,2438.94 1066,2441.46 1072,2444 1078,2446.56 1084,2449.15 1090,2451.75 1096,2454.38 1102,2457.03 1108,2459.7 1114,2462.4 1120,2465.11 1126,2467.86 1132,2470.62 1138,2473.41 1144,2476.22 1150,2479.05 1156,2481.91 1162,2484.79 1168,2487.69 1174,2490.63 1180,2493.58 1186,2496.56 1192,2499.57 1198,2502.6 1204,2505.65 1210,2508.73 1216,2511.84 1222,2514.97 1228,2518.13 1234,2521.32 1240,2524.53 1246,2527.77 1252,2531.04 1258,2534.33 1264,2537.65 1270,2541 1276,2544.38 1282,2547.79 1288,2551.22 1294,2554.68 1300,2558.17 1306,2561.69 1312,2565.24 1318,2568.81 1324,2572.42 1330,2576.06 1336,2579.72 1342,2583.42 1348,2587.15 1354,2590.9 1360,2594.69 1366,2598.51 1372,2602.36 1378,2606.24 1384,2610.15 1390,2614.09 1396,2618.07 1402,2622.08 1408,2626.11 1414,2630.19 1420,2634.29 1426,2638.43 1432,2642.6 1438,2646.8 1444,2651.04 1450,2655.31 1456,2659.61 1462,2663.95 1468,2668.32 1474,2672.73 1480,2677.17 1486,2681.64 1492,2686.16 1498,2690.7 1504,2695.28 1510,2699.9 1516,2704.55 1522,2709.24 1528,2713.96 1534,2718.73 1540,2723.52 1546,2728.36 1552,2733.23 1558,2738.14 1564,2743.08 1570,2748.07 1576,2753.09 1582,2758.15 1588,2763.24 1594,2768.38 1600,2773.55 1606,2778.76 1612,2784.02 1618,2789.31 1624,2794.64 1630,2800 1636,2805.41 1642,2810.86 1648,2816.35 1654,2821.88 1660,2827.45 1666,2833.06 1672,2838.71 1678,2844.41 1683,2849.18" fill="none" stroke="#fb6400" stroke-width="6.9" stroke-linejoin="round"/>
<polyline points="208,2359.94 214,2361.49 220,2363.03 226,2364.56 232,2366.08 238,2367.59 244,2369.09 250,2370.58 256,2372.06 262,2373.53 268,2374.99 274,2376.44 280,2377.88 286,2379.31 292,2380.74 298,2382.15 304,2383.56 310,2384.96 316,2386.35 322,2387.74 328,2389.12 334,2390.49 340,2391.85 346,2393.21 352,2394.56 358,2395.91 364,2397.25 370,2398.58 376,2399.91 382,2401.23 388,2402.55 394,2403.86 400,2405.17 406,2406.48 412,2407.78 418,2409.07 424,2410.36 430,2411.65 436,2412.94 442,2414.22 448,2415.5 454,2416.77 460,2418.05 466,2419.32 472,2420.59 478,2421.86 484,2423.12 490,2424.39 496,2425.65 502,2426.91 508,2428.17 514,2429.43 520,2430.7 526,2431.96 532,2433.22 538,2434.48 544,2435.74 550,2437 556,2438.26 562,2439.53 568,2440.79 574,2442.06 580,2443.33 586,2444.6 592,2445.87 598,2447.15 604,2448.43 610,2449.71 616,2450.99 622,2452.28 628,2453.57 634,2454.86 640,2456.16 646,2457.46 652,2458.77 658,2460.08 664,2461.4 670,2462.72 676,2464.05 682,2465.38 688,2466.72 694,2468.06 700,2469.41 706,2470.76 712,2472.13 718,2473.5 724,2474.87 730,2476.25 736,2477.64 742,2479.04 748,2480.45 754,2481.86 760,2483.28 766,2484.71 772,2486.15 778,2487.6 784,2489.06 790,2490.52 796,2492 802,2493.49 808,2494.98 814,2496.49 820,2498 826,2499.53 832,2501.07 838,2502.62 844,2504.17 850,2505.75 856,2507.33 862,2508.92 868,2510.53 874,2512.15 880,2513.78 886,2515.42 892,2517.08 898,2518.75 904,2520.43 910,2522.13 916,2523.84 922,2525.57 928,2527.3 934,2529.06 940,2530.83 946,2532.61 952,2534.41 958,2536.22 964,2538.05 970,2539.89 976,2541.75 982,2543.63 988,2545.52 994,2547.43 1000,2549.36 1006,2551.3 1012,2553.26 1018,2555.24 1024,2557.24 1030,2559.25 1036,2561.28 1042,2563.33 1048,2565.4 1054,2567.49 1060,2569.59 1066,2571.72 1072,2573.87 1078,2576.03 1084,2578.22 1090,2580.43 1096,2582.66 1102,2584.91 1108,2587.18 1114,2589.47 1120,2591.79 1126,2594.12 1132,2596.49 1138,2598.87 1144,2601.28 1150,2603.71 1156,2606.16 1162,2608.64 1168,2611.15 1174,2613.67 1180,2616.23 1186,2618.81 1192,2621.41 1198,2624.04 1204,2626.7 1210,2629.38 1216,2632.09 1222,2634.83 1228,2637.59 1234,2640.39 1240,2643.21 1246,2646.06 1252,2648.93 1258,2651.84 1264,2654.78 1270,2657.74 1276,2660.73 1282,2663.76 1288,2666.81 1294,2669.9 1300,2673.02 1306,2676.16 1312,2679.34 1318,2682.55 1324,2685.8 1330,2689.07 1336,2692.38 1342,2695.72 1348,2699.1 1354,2702.5 1360,2705.95 1366,2709.42 1372,2712.93 1378,2716.48 1384,2720.06 1390,2723.67 1396,2727.32 1402,2731.01 1408,2734.73 1414,2738.49 1420,2742.29 1426,2746.12 1432,2749.99 1438,2753.9 1444,2757.84 1450,2761.83 1456,2765.84 1462,2769.89 1468,2773.97 1474,2778.08 1480,2782.22 1486,2786.38 1492,2790.56 1498,2794.75 1504,2798.97 1510,2803.2 1516,2807.44 1522,2811.69 1528,2815.95 1534,2820.21 1540,2824.48 1546,2828.74 1552,2833.01 1558,2837.27 1564,2841.52 1570,2845.76 1576,2850 1582,2854.22 1588,2858.42 1594,2862.61 1600,2866.77 1606,2870.91 1612,2875.03 1618,2879.12 1624,2883.18 1630,2887.21 1636,2891.21 1642,2895.17 1648,2899.08 1654,2902.96 1660,2906.8 1666,2910.59 1672,2914.33 1678,2918.02 1683,2921.05" fill="none" stroke="#f00000" stroke-width="6.9" stroke-linejoin="round"/>
<polyline points="208,2528.95 214,2529.35 220,2529.77 226,2530.2 232,2530.65 238,2531.13 244,2531.62 250,2532.12 256,2532.65 262,2533.2 268,2533.76 274,2534.34 280,2534.93 286,2535.54 292,2536.17 298,2536.81 304,2537.47 310,2538.15 316,2538.84 322,2539.55 328,2540.27 334,2541 340,2541.75 346,2542.52 352,2543.29 358,2544.08 364,2544.89 370,2545.71 376,2546.54 382,2547.38 388,2548.23 394,2549.1 400,2549.98 406,2550.87 412,2551.77 418,2552.68 424,2553.6 430,2554.54 436,2555.48 442,2556.43 448,2557.4 454,2558.37 460,2559.35 466,2560.34 472,2561.34 478,2562.35 484,2563.36 490,2564.39 496,2565.42 502,2566.46 508,2567.5 514,2568.56 520,2569.61 526,2570.68 532,2571.75 538,2572.83 544,2573.91 550,2575 556,2576.1 562,2577.19 568,2578.3 574,2579.41 580,2580.52 586,2581.63 592,2582.75 598,2583.87 604,2585 610,2586.13 616,2587.26 622,2588.39 628,2589.53 634,2590.67 640,2591.81 646,2592.95 652,2594.1 658,2595.25 664,2596.4 670,2597.56 676,2598.73 682,2599.89 688,2601.06 694,2602.24 700,2603.42 706,2604.61 712,2605.8 718,2607 724,2608.2 730,2609.41 736,2610.63 742,2611.85 748,2613.08 754,2614.32 760,2615.56 766,2616.81 772,2618.07 778,2619.34 784,2620.61 790,2621.89 796,2623.19 802,2624.49 808,2625.79 814,2627.11 820,2628.44 826,2629.78 832,2631.12 838,2632.48 844,2633.84 850,2635.22 856,2636.61 862,2638.01 868,2639.42 874,2640.84 880,2642.27 886,2643.71 892,2645.17 898,2646.64 904,2648.12 910,2649.61 916,2651.11 922,2652.63 928,2654.16 934,2655.71 940,2657.27 946,2658.84 952,2660.43 958,2662.03 964,2663.64 970,2665.27 976,2666.92 982,2668.58 988,2670.25 994,2671.94 1000,2673.65 1006,2675.37 1012,2677.11 1018,2678.87 1024,2680.64 1030,2682.43 1036,2684.23 1042,2686.06 1048,2687.9 1054,2689.75 1060,2691.63 1066,2693.52 1072,2695.43 1078,2697.36 1084,2699.3 1090,2701.26 1096,2703.24 1102,2705.24 1108,2707.25 1114,2709.29 1120,2711.34 1126,2713.41 1132,2715.5 1138,2717.6 1144,2719.73 1150,2721.87 1156,2724.03 1162,2726.21 1168,2728.41 1174,2730.62 1180,2732.86 1186,2735.12 1192,2737.39 1198,2739.68 1204,2741.99 1210,2744.32 1216,2746.67 1222,2749.04 1228,2751.43 1234,2753.84 1240,2756.27 1246,2758.72 1252,2761.19 1258,2763.67 1264,2766.18 1270,2768.71 1276,2771.25 1282,2773.82 1288,2776.41 1294,2779.02 1300,2781.64 1306,2784.29 1312,2786.96 1318,2789.65 1324,2792.36 1330,2795.09 1336,2797.84 1342,2800.62 1348,2803.41 1354,2806.22 1360,2809.06 1366,2811.92 1372,2814.79 1378,2817.69 1384,2820.61 1390,2823.55 1396,2826.52 1402,2829.5 1408,2832.51 1414,2835.54 1420,2838.59 1426,2841.66 1432,2844.76 1438,2847.87 1444,2851.01 1450,2854.17 1456,2857.36 1462,2860.56 1468,2863.79 1474,2867.04 1480,2870.31 1486,2873.6 1492,2876.92 1498,2880.26 1504,2883.62 1510,2887 1516,2890.41 1522,2893.84 1528,2897.29 1534,2900.76 1540,2904.25 1546,2907.77 1552,2911.31 1558,2914.87 1564,2918.46 1570,2922.06 1576,2925.69 1582,2929.34 1588,2933.02 1594,2936.71 1600,2940.43 1606,2944.17 1612,2947.93 1618,2951.72 1624,2955.53 1630,2959.36 1636,2963.21 1642,2967.08 1648,2970.98 1654,2974.9 1660,2978.84 1666,2982.81 1672,2986.8 1678,2990.81 1683,2994.16" fill="none" stroke="#fa00fa" stroke-width="6.9" stroke-linejoin="round"/>
<polyline points="208,2691.55 214,2692.58 220,2693.62 226,2694.65 232,2695.68 238,2696.7 244,2697.73 250,2698.75 256,2699.77 262,2700.78 268,2701.79 274,2702.81 280,2703.81 286,2704.82 292,2705.83 298,2706.83 304,2707.83 310,2708.83 316,2709.83 322,2710.82 328,2711.82 334,2712.81 340,2713.8 346,2714.79 352,2715.78 358,2716.77 364,2717.76 370,2718.74 376,2719.73 382,2720.71 388,2721.7 394,2722.68 400,2723.66 406,2724.65 412,2725.63 418,2726.61 424,2727.6 430,2728.58 436,2729.56 442,2730.54 448,2731.53 454,2732.51 460,2733.5 466,2734.48 472,2735.47 478,2736.45 484,2737.44 490,2738.43 496,2739.41 502,2740.4 508,2741.39 514,2742.39 520,2743.38 526,2744.37 532,2745.37 538,2746.37 544,2747.37 550,2748.37 556,2749.37 562,2750.38 568,2751.38 574,2752.39 580,2753.4 586,2754.42 592,2755.43 598,2756.45 604,2757.47 610,2758.5 616,2759.52 622,2760.55 628,2761.59 634,2762.62 640,2763.66 646,2764.7 652,2765.74 658,2766.79 664,2767.84 670,2768.9 676,2769.96 682,2771.02 688,2772.08 694,2773.15 700,2774.23 706,2775.31 712,2776.39 718,2777.47 724,2778.56 730,2779.66 736,2780.76 742,2781.86 748,2782.97 754,2784.08 760,2785.2 766,2786.32 772,2787.45 778,2788.59 784,2789.72 790,2790.87 796,2792.02 802,2793.17 808,2794.33 814,2795.49 820,2796.67 826,2797.84 832,2799.03 838,2800.21 844,2801.41 850,2802.61 856,2803.82 862,2805.03 868,2806.25 874,2807.48 880,2808.71 886,2809.95 892,2811.19 898,2812.45 904,2813.71 910,2814.98 916,2816.25 922,2817.53 928,2818.82 934,2820.12 940,2821.42 946,2822.73 952,2824.05 958,2825.37 964,2826.71 970,2828.05 976,2829.4 982,2830.76 988,2832.12 994,2833.5 1000,2834.88 1006,2836.27 1012,2837.67 1018,2839.08 1024,2840.5 1030,2841.92 1036,2843.36 1042,2844.8 1048,2846.25 1054,2847.72 1060,2849.19 1066,2850.67 1072,2852.16 1078,2853.66 1084,2855.17 1090,2856.69 1096,2858.22 1102,2859.76 1108,2861.31 1114,2862.87 1120,2864.44 1126,2866.02 1132,2867.61 1138,2869.22 1144,2870.83 1150,2872.46 1156,2874.09 1162,2875.74 1168,2877.4 1174,2879.07 1180,2880.76 1186,2882.45 1192,2884.16 1198,2885.88 1204,2887.61 1210,2889.35 1216,2891.11 1222,2892.87 1228,2894.66 1234,2896.45 1240,2898.26 1246,2900.08 1252,2901.91 1258,2903.75 1264,2905.61 1270,2907.49 1276,2909.37 1282,2911.27 1288,2913.19 1294,2915.12 1300,2917.06 1306,2919.01 1312,2920.98 1318,2922.97 1324,2924.97 1330,2926.98 1336,2929.01 1342,2931.06 1348,2933.12 1354,2935.19 1360,2937.28 1366,2939.38 1372,2941.5 1378,2943.64 1384,2945.79 1390,2947.96 1396,2950.14 1402,2952.34 1408,2954.56 1414,2956.79 1420,2959.04 1426,2961.31 1432,2963.59 1438,2965.89 1444,2968.2 1450,2970.53 1456,2972.88 1462,2975.25 1468,2977.64 1474,2980.04 1480,2982.46 1486,2984.9 1492,2987.35 1498,2989.82 1504,2992.32 1510,2994.83 1516,2997.35 1522,2999.9 1528,3002.47 1534,3005.05 1540,3007.65 1546,3010.27 1552,3012.91 1558,3015.57 1564,3018.25 1570,3020.95 1576,3023.67 1582,3026.41 1588,3029.17 1594,3031.94 1600,3034.74 1606,3037.56 1612,3040.4 1618,3043.25 1624,3046.13 1630,3049.03 1636,3051.95 1642,3054.89 1648,3057.85 1654,3060.84 1660,3063.84 1666,3066.87 1672,3069.91 1678,3072.98 1683,3075.56" fill="none" stroke="#9a00ff" stroke-width="6.9" stroke-linejoin="round"/>
<polyline points="208,2891.55 214,2891.59 220,2891.64 226,2891.69 232,2891.76 238,2891.83 244,2891.91 250,2892 256,2892.11 262,2892.22 268,2892.34 274,2892.47 280,2892.6 286,2892.75 292,2892.91 298,2893.07 304,2893.25 310,2893.43 316,2893.63 322,2893.83 328,2894.04 334,2894.26 340,2894.49 346,2894.73 352,2894.98 358,2895.24 364,2895.5 370,2895.78 376,2896.06 382,2896.36 388,2896.66 394,2896.97 400,2897.29 406,2897.62 412,2897.96 418,2898.31 424,2898.67 430,2899.03 436,2899.41 442,2899.79 448,2900.18 454,2900.58 460,2900.99 466,2901.41 472,2901.84 478,2902.28 484,2902.72 490,2903.18 496,2903.64 502,2904.11 508,2904.59 514,2905.08 520,2905.58 526,2906.09 532,2906.61 538,2907.13 544,2907.67 550,2908.21 556,2908.76 562,2909.32 568,2909.89 574,2910.47 580,2911.05 586,2911.65 592,2912.25 598,2912.87 604,2913.49 610,2914.12 616,2914.76 622,2915.4 628,2916.06 634,2916.72 640,2917.4 646,2918.08 652,2918.77 658,2919.47 664,2920.17 670,2920.89 676,2921.61 682,2922.35 688,2923.09 694,2923.84 700,2924.6 706,2925.36 712,2926.14 718,2926.92 724,2927.72 730,2928.52 736,2929.33 742,2930.14 748,2930.97 754,2931.81 760,2932.65 766,2933.5 772,2934.36 778,2935.23 784,2936.1 790,2936.99 796,2937.88 802,2938.78 808,2939.69 814,2940.61 820,2941.54 826,2942.47 832,2943.42 838,2944.37 844,2945.33 850,2946.3 856,2947.27 862,2948.26 868,2949.25 874,2950.25 880,2951.26 886,2952.28 892,2953.3 898,2954.34 904,2955.38 910,2956.43 916,2957.49 922,2958.55 928,2959.63 934,2960.71 940,2961.8 946,2962.9 952,2964 958,2965.12 964,2966.24 970,2967.37 976,2968.51 982,2969.66 988,2970.81 994,2971.98 1000,2973.15 1006,2974.33 1012,2975.51 1018,2976.71 1024,2977.91 1030,2979.12 1036,2980.34 1042,2981.57 1048,2982.8 1054,2984.04 1060,2985.29 1066,2986.55 1072,2987.82 1078,2989.09 1084,2990.38 1090,2991.66 1096,2992.96 1102,2994.27 1108,2995.58 1114,2996.9 1120,2998.23 1126,2999.57 1132,3000.91 1138,3002.26 1144,3003.62 1150,3004.99 1156,3006.37 1162,3007.75 1168,3009.14 1174,3010.54 1180,3011.95 1186,3013.36 1192,3014.78 1198,3016.21 1204,3017.65 1210,3019.09 1216,3020.54 1222,3022 1228,3023.47 1234,3024.95 1240,3026.43 1246,3027.92 1252,3029.42 1258,3030.92 1264,3032.44 1270,3033.96 1276,3035.48 1282,3037.02 1288,3038.56 1294,3040.11 1300,3041.67 1306,3043.24 1312,3044.81 1318,3046.39 1324,3047.98 1330,3049.57 1336,3051.18 1342,3052.79 1348,3054.4 1354,3056.03 1360,3057.66 1366,3059.3 1372,3060.95 1378,3062.6 1384,3064.26 1390,3065.93 1396,3067.61 1402,3069.29 1408,3070.98 1414,3072.68 1420,3074.39 1426,3076.1 1432,3077.82 1438,3079.55 1444,3081.28 1450,3083.03 1456,3084.78 1462,3086.53 1468,3088.3 1474,3090.07 1480,3091.84 1486,3093.63 1492,3095.42 1498,3097.22 1504,3099.03 1510,3100.84 1516,3102.66 1522,3104.49 1528,3106.33 1534,3108.17 1540,3110.02 1546,3111.87 1552,3113.74 1558,3115.61 1564,3117.48 1570,3119.37 1576,3121.26 1582,3123.16 1588,3125.07 1594,3126.98 1600,3128.9 1606,3130.82 1612,3132.76 1618,3134.7 1624,3136.65 1630,3138.6 1636,3140.56 1642,3142.53 1648,3144.5 1654,3146.49 1660,3148.48 1666,3150.47 1672,3152.47 1678,3154.48 1683,3156.16" fill="none" stroke="#0000fa" stroke-width="6.9" stroke-linejoin="round"/>
<polyline points="208,3037.16 214,3037.48 220,3037.8 226,3038.12 232,3038.44 238,3038.77 244,3039.09 250,3039.42 256,3039.74 262,3040.07 268,3040.4 274,3040.72 280,3041.05 286,3041.38 292,3041.72 298,3042.05 304,3042.38 310,3042.72 316,3043.05 322,3043.39 328,3043.73 334,3044.07 340,3044.41 346,3044.76 352,3045.1 358,3045.45 364,3045.8 370,3046.15 376,3046.5 382,3046.85 388,3047.2 394,3047.56 400,3047.92 406,3048.28 412,3048.64 418,3049 424,3049.37 430,3049.74 436,3050.11 442,3050.48 448,3050.85 454,3051.23 460,3051.61 466,3051.99 472,3052.37 478,3052.75 484,3053.14 490,3053.53 496,3053.92 502,3054.32 508,3054.71 514,3055.11 520,3055.52 526,3055.92 532,3056.33 538,3056.74 544,3057.15 550,3057.57 556,3057.98 562,3058.4 568,3058.83 574,3059.26 580,3059.69 586,3060.12 592,3060.55 598,3060.99 604,3061.44 610,3061.88 616,3062.33 622,3062.78 628,3063.24 634,3063.69 640,3064.15 646,3064.62 652,3065.09 658,3065.56 664,3066.03 670,3066.51 676,3067 682,3067.48 688,3067.97 694,3068.46 700,3068.96 706,3069.46 712,3069.97 718,3070.48 724,3070.99 730,3071.5 736,3072.02 742,3072.55 748,3073.08 754,3073.61 760,3074.15 766,3074.69 772,3075.23 778,3075.78 784,3076.33 790,3076.89 796,3077.45 802,3078.02 808,3078.59 814,3079.16 820,3079.74 826,3080.33 832,3080.92 838,3081.51 844,3082.11 850,3082.71 856,3083.32 862,3083.93 868,3084.55 874,3085.17 880,3085.8 886,3086.43 892,3087.07 898,3087.71 904,3088.35 910,3089.01 916,3089.66 922,3090.33 928,3090.99 934,3091.67 940,3092.34 946,3093.03 952,3093.71 958,3094.41 964,3095.11 970,3095.81 976,3096.52 982,3097.24 988,3097.96 994,3098.69 1000,3099.42 1006,3100.16 1012,3100.9 1018,3101.65 1024,3102.41 1030,3103.17 1036,3103.94 1042,3104.71 1048,3105.49 1054,3106.28 1060,3107.07 1066,3107.87 1072,3108.67 1078,3109.48 1084,3110.29 1090,3111.12 1096,3111.95 1102,3112.78 1108,3113.62 1114,3114.47 1120,3115.32 1126,3116.18 1132,3117.05 1138,3117.93 1144,3118.81 1150,3119.69 1156,3120.59 1162,3121.49 1168,3122.39 1174,3123.31 1180,3124.23 1186,3125.15 1192,3126.09 1198,3127.03 1204,3127.98 1210,3128.93 1216,3129.9 1222,3130.87 1228,3131.84 1234,3132.83 1240,3133.82 1246,3134.82 1252,3135.82 1258,3136.83 1264,3137.85 1270,3138.88 1276,3139.92 1282,3140.96 1288,3142.01 1294,3143.07 1300,3144.13 1306,3145.2 1312,3146.29 1318,3147.37 1324,3148.47 1330,3149.57 1336,3150.68 1342,3151.8 1348,3152.93 1354,3154.07 1360,3155.21 1366,3156.36 1372,3157.52 1378,3158.69 1384,3159.86 1390,3161.05 1396,3162.24 1402,3163.44 1408,3164.65 1414,3165.87 1420,3167.09 1426,3168.32 1432,3169.57 1438,3170.82 1444,3172.08 1450,3173.34 1456,3174.62 1462,3175.91 1468,3177.2 1474,3178.5 1480,3179.81 1486,3181.13 1492,3182.46 1498,3183.8 1504,3185.15 1510,3186.5 1516,3187.87 1522,3189.24 1528,3190.62 1534,3192.01 1540,3193.41 1546,3194.82 1552,3196.24 1558,3197.67 1564,3199.11 1570,3200.56 1576,3202.01 1582,3203.48 1588,3204.95 1594,3206.44 1600,3207.93 1606,3209.44 1612,3210.95 1618,3212.47 1624,3214.01 1630,3215.55 1636,3217.1 1642,3218.67 1648,3220.24 1654,3221.82 1660,3223.41 1666,3225.01 1672,3226.62 1678,3228.25 1683,3229.61" fill="none" stroke="#4b41ff" stroke-width="6.9" stroke-linejoin="round"/>
<polyline points="208,3190.65 214,3190.96 220,3191.27 226,3191.57 232,3191.87 238,3192.17 244,3192.47 250,3192.77 256,3193.07 262,3193.36 268,3193.66 274,3193.95 280,3194.24 286,3194.53 292,3194.82 298,3195.1 304,3195.39 310,3195.68 316,3195.96 322,3196.24 328,3196.53 334,3196.81 340,3197.09 346,3197.37 352,3197.64 358,3197.92 364,3198.2 370,3198.47 376,3198.75 382,3199.02 388,3199.29 394,3199.57 400,3199.84 406,3200.11 412,3200.38 418,3200.65 424,3200.92 430,3201.19 436,3201.46 442,3201.73 448,3201.99 454,3202.26 460,3202.53 466,3202.8 472,3203.06 478,3203.33 484,3203.59 490,3203.86 496,3204.13 502,3204.39 508,3204.66 514,3204.92 520,3205.19 526,3205.45 532,3205.72 538,3205.98 544,3206.25 550,3206.51 556,3206.78 562,3207.04 568,3207.31 574,3207.57 580,3207.84 586,3208.11 592,3208.37 598,3208.64 604,3208.91 610,3209.18 616,3209.45 622,3209.72 628,3209.98 634,3210.25 640,3210.53 646,3210.8 652,3211.07 658,3211.34 664,3211.61 670,3211.89 676,3212.16 682,3212.44 688,3212.71 694,3212.99 700,3213.27 706,3213.55 712,3213.83 718,3214.11 724,3214.39 730,3214.67 736,3214.96 742,3215.24 748,3215.53 754,3215.82 760,3216.1 766,3216.39 772,3216.68 778,3216.98 784,3217.27 790,3217.56 796,3217.86 802,3218.16 808,3218.46 814,3218.76 820,3219.06 826,3219.36 832,3219.67 838,3219.98 844,3220.28 850,3220.59 856,3220.9 862,3221.22 868,3221.53 874,3221.85 880,3222.17 886,3222.49 892,3222.81 898,3223.14 904,3223.46 910,3223.79 916,3224.12 922,3224.45 928,3224.79 934,3225.12 940,3225.46 946,3225.8 952,3226.14 958,3226.49 964,3226.84 970,3227.19 976,3227.54 982,3227.89 988,3228.25 994,3228.61 1000,3228.97 1006,3229.33 1012,3229.7 1018,3230.07 1024,3230.44 1030,3230.81 1036,3231.19 1042,3231.57 1048,3231.95 1054,3232.33 1060,3232.72 1066,3233.11 1072,3233.5 1078,3233.9 1084,3234.29 1090,3234.7 1096,3235.1 1102,3235.51 1108,3235.92 1114,3236.33 1120,3236.75 1126,3237.16 1132,3237.59 1138,3238.01 1144,3238.44 1150,3238.87 1156,3239.31 1162,3239.75 1168,3240.19 1174,3240.63 1180,3241.08 1186,3241.53 1192,3241.99 1198,3242.44 1204,3242.91 1210,3243.37 1216,3243.84 1222,3244.31 1228,3244.79 1234,3245.27 1240,3245.75 1246,3246.24 1252,3246.73 1258,3247.22 1264,3247.72 1270,3248.22 1276,3248.73 1282,3249.24 1288,3249.75 1294,3250.27 1300,3250.79 1306,3251.32 1312,3251.85 1318,3252.38 1324,3252.92 1330,3253.46 1336,3254.01 1342,3254.56 1348,3255.11 1354,3255.67 1360,3256.23 1366,3256.8 1372,3257.37 1378,3257.95 1384,3258.53 1390,3259.11 1396,3259.7 1402,3260.29 1408,3260.89 1414,3261.49 1420,3262.1 1426,3262.71 1432,3263.33 1438,3263.95 1444,3264.58 1450,3265.21 1456,3265.84 1462,3266.48 1468,3267.13 1474,3267.78 1480,3268.43 1486,3269.09 1492,3269.76 1498,3270.43 1504,3271.1 1510,3271.78 1516,3272.46 1522,3273.15 1528,3273.85 1534,3274.55 1540,3275.25 1546,3275.96 1552,3276.68 1558,3277.4 1564,3278.13 1570,3278.86 1576,3279.6 1582,3280.34 1588,3281.09 1594,3281.84 1600,3282.6 1606,3283.36 1612,3284.13 1618,3284.91 1624,3285.69 1630,3286.48 1636,3287.27 1642,3288.07 1648,3288.87 1654,3289.68 1660,3290.5 1666,3291.32 1672,3292.15 1678,3292.98 1683,3293.68" fill="none" stroke="#0564fa" stroke-width="6.9" stroke-linejoin="round"/>
<polyline points="582,1326.51 587,1316.11 592,1305.82 597,1295.66 602,1285.61 607,1275.69 612,1265.87 617,1256.17 622,1246.59 627,1237.12 632,1227.76 637,1218.5 642,1209.36 647,1200.33 652,1191.41 657,1182.59 662,1173.87 667,1165.27 672,1156.76 677,1148.36 682,1140.05 687,1131.85 692,1123.75 697,1115.74 702,1107.83 707,1100.02 712,1092.3 717,1084.68 722,1077.15 727,1069.71 732,1062.36 737,1055.1 742,1047.93 747,1040.85 752,1033.85 757,1026.94 762,1020.11 767,1013.37 772,1006.71 777,1000.13 782,993.63 787,987.21 792,980.87 797,974.6 802,968.42 807,962.3 812,956.27 817,950.31 822,944.43 827,938.63 832,932.9 837,927.25 842,921.68 847,916.18 852,910.76 857,905.42 862,900.15 867,894.97 872,889.86 877,884.82 882,879.87 887,874.99 892,870.19 897,865.46 902,860.82 907,856.25 912,851.76 917,847.35 922,843.01 927,838.75 932,834.57 937,830.47 942,826.44 947,822.5 952,818.63 957,814.83 962,811.12 967,807.49 972,803.93 977,800.45 982,797.05 987,793.72 992,790.48 997,787.31 1002,784.22 1007,781.21 1012,778.28 1017,775.42 1022,772.65 1027,769.95 1032,767.33 1037,764.79 1042,762.33 1047,759.95 1052,757.64 1057,755.42 1062,753.27 1067,751.2 1072,749.21 1077,747.3 1082,745.47 1087,743.71 1092,742.04 1097,740.45 1102,738.94 1107,737.5 1112,736.15 1117,734.88 1122,733.69 1127,732.59 1132,731.56 1137,730.62 1142,729.76 1147,728.98 1152,728.29 1157,727.68 1162,727.15 1167,726.71 1172,726.35 1177,726.08 1182,725.89 1187,725.78 1192,725.76 1197,725.83 1202,725.99 1207,726.23 1212,726.55 1217,726.96 1222,727.46 1227,728.05 1232,728.73 1237,729.49 1242,730.34 1247,731.28 1252,732.31 1257,733.43 1262,734.64 1267,735.94 1272,737.33 1277,738.8 1282,740.37 1287,742.03 1292,743.78 1297,745.63 1302,747.56 1307,749.59 1312,751.71 1317,753.92 1322,756.22 1327,758.62 1332,761.11 1337,763.7 1342,766.37 1347,769.15 1352,772.02 1357,774.98 1362,778.04 1367,781.19 1372,784.44 1377,787.79 1382,791.23 1387,794.77 1392,798.4 1397,802.14 1402,805.97 1407,809.89 1412,813.92 1417,818.05 1422,822.27 1427,826.59 1432,831.01 1437,835.54 1442,840.16 1447,844.88 1452,849.7 1457,854.62 1462,859.65 1467,864.77 1472,870 1477,875.32 1482,880.75 1487,886.29 1492,891.92 1497,897.66 1502,903.5 1507,909.45 1512,915.5 1517,921.65 1522,927.91 1527,934.27 1532,940.74 1537,947.31 1542,953.99 1547,960.78 1552,967.67 1557,974.66 1562,981.77 1567,988.98 1572,996.3 1577,1003.72 1582,1011.26 1587,1018.9 1592,1026.65 1597,1034.51 1602,1042.47 1607,1050.55 1612,1058.74 1617,1067.04 1622,1075.44 1627,1083.96 1632,1092.59 1637,1101.33 1642,1110.18 1647,1119.14 1652,1128.22 1657,1137.4 1662,1146.7 1667,1156.12 1672,1165.64 1677,1175.28 1682,1185.03" fill="none" stroke="#12ee12" stroke-width="5.6" stroke-linejoin="round"/>
<text transform="matrix(1 0 0 1 354.53 752.32)" font-family="'Liberation Sans', Arial, sans-serif" font-weight="bold" font-size="59.32" letter-spacing="4.74" fill="#fff" stroke="#fff" stroke-width="14.2" stroke-linejoin="round">6SP60-16</text>
<text transform="matrix(1 0 0 1 354.53 752.32)" font-family="'Liberation Sans', Arial, sans-serif" font-weight="bold" font-size="59.32" letter-spacing="4.74" fill="#fb6400" stroke="#fb6400" stroke-width="2.2" stroke-linejoin="round">6SP60-16</text>
<text transform="matrix(1 0 0 1 354.54 1083.72)" font-family="'Liberation Sans', Arial, sans-serif" font-weight="bold" font-size="58.9" letter-spacing="4.75" fill="#fff" stroke="#fff" stroke-width="14.2" stroke-linejoin="round">6SP60-15</text>
<text transform="matrix(1 0 0 1 354.54 1083.72)" font-family="'Liberation Sans', Arial, sans-serif" font-weight="bold" font-size="58.9" letter-spacing="4.75" fill="#f00000" stroke="#f00000" stroke-width="2.2" stroke-linejoin="round">6SP60-15</text>
<text transform="matrix(1 0 0 1 354.65 1231.85)" font-family="'Liberation Sans', Arial, sans-serif" font-weight="bold" font-size="56.07" letter-spacing="6.28" fill="#fff" stroke="#fff" stroke-width="14.2" stroke-linejoin="round">6SP60-14</text>
<text transform="matrix(1 0 0 1 354.65 1231.85)" font-family="'Liberation Sans', Arial, sans-serif" font-weight="bold" font-size="56.07" letter-spacing="6.28" fill="#fa00fa" stroke="#fa00fa" stroke-width="2.2" stroke-linejoin="round">6SP60-14</text>
<text transform="matrix(1 0 0 1 354.65 1370.67)" font-family="'Liberation Sans', Arial, sans-serif" font-weight="bold" font-size="55.96" letter-spacing="6.6" fill="#fff" stroke="#fff" stroke-width="14.2" stroke-linejoin="round">6SP60-13</text>
<text transform="matrix(1 0 0 1 354.65 1370.67)" font-family="'Liberation Sans', Arial, sans-serif" font-weight="bold" font-size="55.96" letter-spacing="6.6" fill="#9a00ff" stroke="#9a00ff" stroke-width="2.2" stroke-linejoin="round">6SP60-13</text>
<text transform="matrix(1 0 0 1 354.65 1505.25)" font-family="'Liberation Sans', Arial, sans-serif" font-weight="bold" font-size="56.07" letter-spacing="6.56" fill="#fff" stroke="#fff" stroke-width="14.2" stroke-linejoin="round">6SP60-12</text>
<text transform="matrix(1 0 0 1 354.65 1505.25)" font-family="'Liberation Sans', Arial, sans-serif" font-weight="bold" font-size="56.07" letter-spacing="6.56" fill="#0000fa" stroke="#0000fa" stroke-width="2.2" stroke-linejoin="round">6SP60-12</text>
<text transform="matrix(1 0 0 1 354.64 1657.35)" font-family="'Liberation Sans', Arial, sans-serif" font-weight="bold" font-size="56.21" letter-spacing="5.43" fill="#fff" stroke="#fff" stroke-width="14.2" stroke-linejoin="round">6SP60-11</text>
<text transform="matrix(1 0 0 1 354.64 1657.35)" font-family="'Liberation Sans', Arial, sans-serif" font-weight="bold" font-size="56.21" letter-spacing="5.43" fill="#4b41ff" stroke="#4b41ff" stroke-width="2.2" stroke-linejoin="round">6SP60-11</text>
<text transform="matrix(1 0 0 1 354.79 1850.54)" font-family="'Liberation Sans', Arial, sans-serif" font-weight="bold" font-size="57.63" letter-spacing="5.71" fill="#fff" stroke="#fff" stroke-width="14.2" stroke-linejoin="round">6SP60-10</text>
<text transform="matrix(1 0 0 1 354.79 1850.54)" font-family="'Liberation Sans', Arial, sans-serif" font-weight="bold" font-size="57.63" letter-spacing="5.71" fill="#0564fa" stroke="#0564fa" stroke-width="2.2" stroke-linejoin="round">6SP60-10</text>
<text transform="matrix(1 0 0 1 351.39 2053.44)" font-family="'Liberation Sans', Arial, sans-serif" font-weight="bold" font-size="57.63" letter-spacing="5.65" fill="#fff" stroke="#fff" stroke-width="14.2" stroke-linejoin="round">6SP60-9</text>
<text transform="matrix(1 0 0 1 351.39 2053.44)" font-family="'Liberation Sans', Arial, sans-serif" font-weight="bold" font-size="57.63" letter-spacing="5.65" fill="#00fafa" stroke="#00fafa" stroke-width="2.2" stroke-linejoin="round">6SP60-9</text>
<text transform="matrix(1 0 0 1 351.39 2203.04)" font-family="'Liberation Sans', Arial, sans-serif" font-weight="bold" font-size="57.63" letter-spacing="5.59" fill="#fff" stroke="#fff" stroke-width="14.2" stroke-linejoin="round">6SP60-8</text>
<text transform="matrix(1 0 0 1 351.39 2203.04)" font-family="'Liberation Sans', Arial, sans-serif" font-weight="bold" font-size="57.63" letter-spacing="5.59" fill="#4dfa10" stroke="#4dfa10" stroke-width="2.2" stroke-linejoin="round">6SP60-8</text>
<text transform="matrix(1 0 0 1 351.39 2357.74)" font-family="'Liberation Sans', Arial, sans-serif" font-weight="bold" font-size="57.63" letter-spacing="5.71" fill="#fff" stroke="#fff" stroke-width="14.2" stroke-linejoin="round">6SP60-7</text>
<text transform="matrix(1 0 0 1 351.39 2357.74)" font-family="'Liberation Sans', Arial, sans-serif" font-weight="bold" font-size="57.63" letter-spacing="5.71" fill="#fb6400" stroke="#fb6400" stroke-width="2.2" stroke-linejoin="round">6SP60-7</text>
<text transform="matrix(1 0 0 1 351.39 2515.94)" font-family="'Liberation Sans', Arial, sans-serif" font-weight="bold" font-size="57.63" letter-spacing="5.64" fill="#fff" stroke="#fff" stroke-width="14.2" stroke-linejoin="round">6SP60-6</text>
<text transform="matrix(1 0 0 1 351.39 2515.94)" font-family="'Liberation Sans', Arial, sans-serif" font-weight="bold" font-size="57.63" letter-spacing="5.64" fill="#f00000" stroke="#f00000" stroke-width="2.2" stroke-linejoin="round">6SP60-6</text>
<text transform="matrix(1 0 0 1 351.42 2645.05)" font-family="'Liberation Sans', Arial, sans-serif" font-weight="bold" font-size="56.78" letter-spacing="6.02" fill="#fff" stroke="#fff" stroke-width="14.2" stroke-linejoin="round">6SP60-5</text>
<text transform="matrix(1 0 0 1 351.42 2645.05)" font-family="'Liberation Sans', Arial, sans-serif" font-weight="bold" font-size="56.78" letter-spacing="6.02" fill="#fa00fa" stroke="#fa00fa" stroke-width="2.2" stroke-linejoin="round">6SP60-5</text>
<text transform="matrix(1 0 0 1 351.43 2824.95)" font-family="'Liberation Sans', Arial, sans-serif" font-weight="bold" font-size="56.64" letter-spacing="5.89" fill="#fff" stroke="#fff" stroke-width="14.2" stroke-linejoin="round">6SP60-4</text>
<text transform="matrix(1 0 0 1 351.43 2824.95)" font-family="'Liberation Sans', Arial, sans-serif" font-weight="bold" font-size="56.64" letter-spacing="5.89" fill="#9a00ff" stroke="#9a00ff" stroke-width="2.2" stroke-linejoin="round">6SP60-4</text>
<text transform="matrix(1 0 0 1 351.42 2976.66)" font-family="'Liberation Sans', Arial, sans-serif" font-weight="bold" font-size="56.66" letter-spacing="6.17" fill="#fff" stroke="#fff" stroke-width="14.2" stroke-linejoin="round">6SP60-3</text>
<text transform="matrix(1 0 0 1 351.42 2976.66)" font-family="'Liberation Sans', Arial, sans-serif" font-weight="bold" font-size="56.66" letter-spacing="6.17" fill="#0000fa" stroke="#0000fa" stroke-width="2.2" stroke-linejoin="round">6SP60-3</text>
<text transform="matrix(1 0 0 1 351.43 3121.05)" font-family="'Liberation Sans', Arial, sans-serif" font-weight="bold" font-size="56.64" letter-spacing="6.22" fill="#fff" stroke="#fff" stroke-width="14.2" stroke-linejoin="round">6SP60-2</text>
<text transform="matrix(1 0 0 1 351.43 3121.05)" font-family="'Liberation Sans', Arial, sans-serif" font-weight="bold" font-size="56.64" letter-spacing="6.22" fill="#4b41ff" stroke="#4b41ff" stroke-width="2.2" stroke-linejoin="round">6SP60-2</text>
<text transform="matrix(1 0 0 1 351.43 3270.95)" font-family="'Liberation Sans', Arial, sans-serif" font-weight="bold" font-size="56.64" letter-spacing="4.86" fill="#fff" stroke="#fff" stroke-width="14.2" stroke-linejoin="round">6SP60-1</text>
<text transform="matrix(1 0 0 1 351.43 3270.95)" font-family="'Liberation Sans', Arial, sans-serif" font-weight="bold" font-size="56.64" letter-spacing="4.86" fill="#0564fa" stroke="#0564fa" stroke-width="2.2" stroke-linejoin="round">6SP60-1</text>
<line x1="1851.4" y1="561.3" x2="1851.4" y2="1511.3" stroke="#12ee12" stroke-width="3.4"/>
<line x1="1850" y1="562.6" x2="1868" y2="562.6" stroke="#12ee12" stroke-width="3.2"/>
<line x1="1850" y1="679.6" x2="1868" y2="679.6" stroke="#12ee12" stroke-width="3.2"/>
<line x1="1850" y1="796" x2="1868" y2="796" stroke="#12ee12" stroke-width="3.2"/>
<line x1="1850" y1="912.5" x2="1868" y2="912.5" stroke="#12ee12" stroke-width="3.2"/>
<line x1="1850" y1="1029" x2="1868" y2="1029" stroke="#12ee12" stroke-width="3.2"/>
<line x1="1850" y1="1145.9" x2="1868" y2="1145.9" stroke="#12ee12" stroke-width="3.2"/>
<line x1="1850" y1="1263.7" x2="1868" y2="1263.7" stroke="#12ee12" stroke-width="3.2"/>
<line x1="1850" y1="1380.6" x2="1868" y2="1380.6" stroke="#12ee12" stroke-width="3.2"/>
<line x1="1850" y1="1498.9" x2="1868" y2="1498.9" stroke="#12ee12" stroke-width="3.2"/>
<text transform="matrix(1.23 0 0 1 1878.21 574.12)" font-family="'Liberation Sans', Arial, sans-serif" font-weight="normal" font-size="43.93" fill="#fff" stroke="#fff" stroke-width="12.9" stroke-linejoin="round">80</text>
<text transform="matrix(1.23 0 0 1 1878.21 574.12)" font-family="'Liberation Sans', Arial, sans-serif" font-weight="normal" font-size="43.93" fill="#12ee12" stroke="#12ee12" stroke-width="0.9" stroke-linejoin="round">80</text>
<text transform="matrix(1.13 0 0 1 1877.92 691.08)" font-family="'Liberation Sans', Arial, sans-serif" font-weight="normal" font-size="48.15" fill="#fff" stroke="#fff" stroke-width="12.9" stroke-linejoin="round">75</text>
<text transform="matrix(1.13 0 0 1 1877.92 691.08)" font-family="'Liberation Sans', Arial, sans-serif" font-weight="normal" font-size="48.15" fill="#12ee12" stroke="#12ee12" stroke-width="0.9" stroke-linejoin="round">75</text>
<text transform="matrix(1.18 0 0 1 1877.95 807.1)" font-family="'Liberation Sans', Arial, sans-serif" font-weight="normal" font-size="46.04" fill="#fff" stroke="#fff" stroke-width="12.9" stroke-linejoin="round">70</text>
<text transform="matrix(1.18 0 0 1 1877.95 807.1)" font-family="'Liberation Sans', Arial, sans-serif" font-weight="normal" font-size="46.04" fill="#12ee12" stroke="#12ee12" stroke-width="0.9" stroke-linejoin="round">70</text>
<text transform="matrix(1.16 0 0 1 1877.97 923.49)" font-family="'Liberation Sans', Arial, sans-serif" font-weight="normal" font-size="46.61" fill="#fff" stroke="#fff" stroke-width="12.9" stroke-linejoin="round">65</text>
<text transform="matrix(1.16 0 0 1 1877.97 923.49)" font-family="'Liberation Sans', Arial, sans-serif" font-weight="normal" font-size="46.61" fill="#12ee12" stroke="#12ee12" stroke-width="0.9" stroke-linejoin="round">65</text>
<text transform="matrix(1.18 0 0 1 1877.98 1040.9)" font-family="'Liberation Sans', Arial, sans-serif" font-weight="normal" font-size="46.04" fill="#fff" stroke="#fff" stroke-width="12.9" stroke-linejoin="round">60</text>
<text transform="matrix(1.18 0 0 1 1877.98 1040.9)" font-family="'Liberation Sans', Arial, sans-serif" font-weight="normal" font-size="46.04" fill="#12ee12" stroke="#12ee12" stroke-width="0.9" stroke-linejoin="round">60</text>
<text transform="matrix(1.12 0 0 1 1878.55 1158.68)" font-family="'Liberation Sans', Arial, sans-serif" font-weight="normal" font-size="48.01" fill="#fff" stroke="#fff" stroke-width="12.9" stroke-linejoin="round">55</text>
<text transform="matrix(1.12 0 0 1 1878.55 1158.68)" font-family="'Liberation Sans', Arial, sans-serif" font-weight="normal" font-size="48.01" fill="#12ee12" stroke="#12ee12" stroke-width="0.9" stroke-linejoin="round">55</text>
<text transform="matrix(1.16 0 0 1 1878.58 1274.7)" font-family="'Liberation Sans', Arial, sans-serif" font-weight="normal" font-size="46.19" fill="#fff" stroke="#fff" stroke-width="12.9" stroke-linejoin="round">50</text>
<text transform="matrix(1.16 0 0 1 1878.58 1274.7)" font-family="'Liberation Sans', Arial, sans-serif" font-weight="normal" font-size="46.19" fill="#12ee12" stroke="#12ee12" stroke-width="0.9" stroke-linejoin="round">50</text>
<text transform="matrix(1.15 0 0 1 1886.28 1391.59)" font-family="'Liberation Sans', Arial, sans-serif" font-weight="normal" font-size="46.72" fill="#fff" stroke="#fff" stroke-width="12.9" stroke-linejoin="round">45</text>
<text transform="matrix(1.15 0 0 1 1886.28 1391.59)" font-family="'Liberation Sans', Arial, sans-serif" font-weight="normal" font-size="46.72" fill="#12ee12" stroke="#12ee12" stroke-width="0.9" stroke-linejoin="round">45</text>
<text transform="matrix(1.17 0 0 1 1886.29 1508.5)" font-family="'Liberation Sans', Arial, sans-serif" font-weight="normal" font-size="45.9" fill="#fff" stroke="#fff" stroke-width="12.9" stroke-linejoin="round">40</text>
<text transform="matrix(1.17 0 0 1 1886.29 1508.5)" font-family="'Liberation Sans', Arial, sans-serif" font-weight="normal" font-size="45.9" fill="#12ee12" stroke="#12ee12" stroke-width="0.9" stroke-linejoin="round">40</text>
<text transform="matrix(1.11 0 0 1 1127.9 695.42)" font-family="'Liberation Sans', Arial, sans-serif" font-weight="normal" font-size="55.7" fill="#fff" stroke="#fff" stroke-width="10.9" stroke-linejoin="round">η</text>
<text transform="matrix(1.11 0 0 1 1127.9 695.42)" font-family="'Liberation Sans', Arial, sans-serif" font-weight="normal" font-size="55.7" fill="#12ee12" stroke="#12ee12" stroke-width="0.9" stroke-linejoin="round">η</text>
<text transform="matrix(0.89 0 0 1 1177.17 697.21)" font-family="'Liberation Sans', Arial, sans-serif" font-weight="bold" font-size="63.24" fill="#fff" stroke="#fff" stroke-width="12.4" stroke-linejoin="round">%</text>
<text transform="matrix(0.89 0 0 1 1177.17 697.21)" font-family="'Liberation Sans', Arial, sans-serif" font-weight="bold" font-size="63.24" fill="#12ee12" stroke="#12ee12" stroke-width="2.4" stroke-linejoin="round">%</text>
<text transform="matrix(0.95 0 0 1 193.26 306.62)" font-family="'Liberation Sans', Arial, sans-serif" font-weight="normal" font-size="43.02" fill="#000" stroke="#000" stroke-width="0.9" stroke-linejoin="round">Characteristic of  functioning at 2850 rpm 50 Hz</text>
<text transform="matrix(1.01 0 0 1 192.82 377.59)" font-family="'Liberation Sans', Arial, sans-serif" font-weight="normal" font-size="46.61" fill="#000" stroke="#000" stroke-width="0.9" stroke-linejoin="round">0</text>
<text transform="matrix(1.08 0 0 1 407.95 377.59)" font-family="'Liberation Sans', Arial, sans-serif" font-weight="normal" font-size="46.61" fill="#000" stroke="#000" stroke-width="0.9" stroke-linejoin="round">200</text>
<text transform="matrix(1.06 0 0 1 657.74 377.59)" font-family="'Liberation Sans', Arial, sans-serif" font-weight="normal" font-size="46.61" fill="#000" stroke="#000" stroke-width="0.9" stroke-linejoin="round">400</text>
<text transform="matrix(1.09 0 0 1 903.41 377.59)" font-family="'Liberation Sans', Arial, sans-serif" font-weight="normal" font-size="46.61" fill="#000" stroke="#000" stroke-width="0.9" stroke-linejoin="round">600</text>
<text transform="matrix(1.06 0 0 1 1153.62 377.59)" font-family="'Liberation Sans', Arial, sans-serif" font-weight="normal" font-size="46.61" fill="#000" stroke="#000" stroke-width="0.9" stroke-linejoin="round">800</text>
<text transform="matrix(1.06 0 0 1 1387.7 377.59)" font-family="'Liberation Sans', Arial, sans-serif" font-weight="normal" font-size="46.61" fill="#000" stroke="#000" stroke-width="0.9" stroke-linejoin="round">1000</text>
<text transform="matrix(1.07 0 0 1 1628.68 377.59)" font-family="'Liberation Sans', Arial, sans-serif" font-weight="normal" font-size="46.61" fill="#000" stroke="#000" stroke-width="0.9" stroke-linejoin="round">1200</text>
<text transform="matrix(1.07 0 0 1 1876.38 377.59)" font-family="'Liberation Sans', Arial, sans-serif" font-weight="normal" font-size="46.61" fill="#000" stroke="#000" stroke-width="0.9" stroke-linejoin="round">1400</text>
<text transform="matrix(1.11 0 0 1 2030.62 380.29)" font-family="'Liberation Sans', Arial, sans-serif" font-weight="normal" font-size="46.98" fill="#000" stroke="#000" stroke-width="0.9" stroke-linejoin="round">L/min</text>
<text transform="matrix(1.12 0 0 1 66.21 455.52)" font-family="'Liberation Sans', Arial, sans-serif" font-weight="normal" font-size="44.35" fill="#000" stroke="#000" stroke-width="0.9" stroke-linejoin="round">250</text>
<text transform="matrix(1.11 0 0 1 65.16 1037.51)" font-family="'Liberation Sans', Arial, sans-serif" font-weight="normal" font-size="45.48" fill="#000" stroke="#000" stroke-width="0.9" stroke-linejoin="round">200</text>
<text transform="matrix(1.07 0 0 1 67.97 1625.41)" font-family="'Liberation Sans', Arial, sans-serif" font-weight="normal" font-size="45.48" fill="#000" stroke="#000" stroke-width="0.9" stroke-linejoin="round">150</text>
<text transform="matrix(1.12 0 0 1 67.99 2213.33)" font-family="'Liberation Sans', Arial, sans-serif" font-weight="normal" font-size="43.5" fill="#000" stroke="#000" stroke-width="0.9" stroke-linejoin="round">100</text>
<text transform="matrix(1.04 0 0 1 97.4 2794.79)" font-family="'Liberation Sans', Arial, sans-serif" font-weight="normal" font-size="47.32" fill="#000" stroke="#000" stroke-width="0.9" stroke-linejoin="round">50</text>
<text transform="matrix(1.05 0 0 1 129.16 3382.72)" font-family="'Liberation Sans', Arial, sans-serif" font-weight="normal" font-size="44.35" fill="#000" stroke="#000" stroke-width="0.9" stroke-linejoin="round">0</text>
<text transform="matrix(1.11 0 0 1 36.22 532.46)" font-family="'Liberation Sans', Arial, sans-serif" font-weight="normal" font-size="45.83" fill="#000" stroke="#000" stroke-width="0.9" stroke-linejoin="round">H(m)</text>
<text transform="matrix(1.11 0 0 1 2112.63 512.21)" font-family="'Liberation Sans', Arial, sans-serif" font-weight="normal" font-size="45.06" fill="#000" stroke="#000" stroke-width="0.9" stroke-linejoin="round">800</text>
<text transform="matrix(1.12 0 0 1 2112.24 878.11)" font-family="'Liberation Sans', Arial, sans-serif" font-weight="normal" font-size="44.63" fill="#000" stroke="#000" stroke-width="0.9" stroke-linejoin="round">700</text>
<text transform="matrix(1.13 0 0 1 2111.99 1234.42)" font-family="'Liberation Sans', Arial, sans-serif" font-weight="normal" font-size="44.07" fill="#000" stroke="#000" stroke-width="0.9" stroke-linejoin="round">600</text>
<text transform="matrix(1.1 0 0 1 2112.8 1592.41)" font-family="'Liberation Sans', Arial, sans-serif" font-weight="normal" font-size="45.34" fill="#000" stroke="#000" stroke-width="0.9" stroke-linejoin="round">500</text>
<text transform="matrix(1.13 0 0 1 2113.68 1947.53)" font-family="'Liberation Sans', Arial, sans-serif" font-weight="normal" font-size="43.5" fill="#000" stroke="#000" stroke-width="0.9" stroke-linejoin="round">400</text>
<text transform="matrix(1.14 0 0 1 2112.92 2304.72)" font-family="'Liberation Sans', Arial, sans-serif" font-weight="normal" font-size="43.64" fill="#000" stroke="#000" stroke-width="0.9" stroke-linejoin="round">300</text>
<text transform="matrix(1.15 0 0 1 2111.8 2662.33)" font-family="'Liberation Sans', Arial, sans-serif" font-weight="normal" font-size="43.5" fill="#000" stroke="#000" stroke-width="0.9" stroke-linejoin="round">200</text>
<text transform="matrix(1.08 0 0 1 2113.55 3018.61)" font-family="'Liberation Sans', Arial, sans-serif" font-weight="normal" font-size="45.48" fill="#000" stroke="#000" stroke-width="0.9" stroke-linejoin="round">100</text>
<text transform="matrix(0.91 0 0 1 2107.54 3377.96)" font-family="'Liberation Sans', Arial, sans-serif" font-weight="normal" font-size="49.86" fill="#000" stroke="#000" stroke-width="0.9" stroke-linejoin="round">0</text>
<text transform="matrix(1.17 0 0 1 2112.57 586.87)" font-family="'Liberation Sans', Arial, sans-serif" font-weight="normal" font-size="45.3" fill="#000" stroke="#000" stroke-width="0.9" stroke-linejoin="round">H(ft)</text>
<text transform="matrix(1.1 0 0 1 196.61 3447.62)" font-family="'Liberation Sans', Arial, sans-serif" font-weight="normal" font-size="43.93" fill="#000" stroke="#000" stroke-width="0.9" stroke-linejoin="round">0</text>
<text transform="matrix(1.07 0 0 1 362.8 3447.62)" font-family="'Liberation Sans', Arial, sans-serif" font-weight="normal" font-size="43.93" fill="#000" stroke="#000" stroke-width="0.9" stroke-linejoin="round">10</text>
<text transform="matrix(1.13 0 0 1 568.42 3447.62)" font-family="'Liberation Sans', Arial, sans-serif" font-weight="normal" font-size="43.93" fill="#000" stroke="#000" stroke-width="0.9" stroke-linejoin="round">20</text>
<text transform="matrix(1.13 0 0 1 770.22 3447.62)" font-family="'Liberation Sans', Arial, sans-serif" font-weight="normal" font-size="43.93" fill="#000" stroke="#000" stroke-width="0.9" stroke-linejoin="round">30</text>
<text transform="matrix(1.12 0 0 1 984.77 3447.62)" font-family="'Liberation Sans', Arial, sans-serif" font-weight="normal" font-size="43.93" fill="#000" stroke="#000" stroke-width="0.9" stroke-linejoin="round">40</text>
<text transform="matrix(1.11 0 0 1 1185.54 3447.62)" font-family="'Liberation Sans', Arial, sans-serif" font-weight="normal" font-size="43.93" fill="#000" stroke="#000" stroke-width="0.9" stroke-linejoin="round">50</text>
<text transform="matrix(1.16 0 0 1 1385.34 3447.62)" font-family="'Liberation Sans', Arial, sans-serif" font-weight="normal" font-size="43.93" fill="#000" stroke="#000" stroke-width="0.9" stroke-linejoin="round">60</text>
<text transform="matrix(1.14 0 0 1 1593.14 3447.62)" font-family="'Liberation Sans', Arial, sans-serif" font-weight="normal" font-size="43.93" fill="#000" stroke="#000" stroke-width="0.9" stroke-linejoin="round">70</text>
<text transform="matrix(1.12 0 0 1 1802.17 3447.62)" font-family="'Liberation Sans', Arial, sans-serif" font-weight="normal" font-size="43.93" fill="#000" stroke="#000" stroke-width="0.9" stroke-linejoin="round">80</text>
<text transform="matrix(1.12 0 0 1 2003.2 3447.62)" font-family="'Liberation Sans', Arial, sans-serif" font-weight="normal" font-size="43.93" fill="#000" stroke="#000" stroke-width="0.9" stroke-linejoin="round">90</text>
<text transform="matrix(1.07 0 0 1 2096.62 3443.63)" font-family="'Liberation Sans', Arial, sans-serif" font-weight="normal" font-size="46.48" fill="#000" stroke="#000" stroke-width="0.9" stroke-linejoin="round">Q(m³/h)</text>
<line x1="180.7" y1="3686.9" x2="2052" y2="3686.9" stroke="#000" stroke-width="3.4"/>
<line x1="180.7" y1="3723.8" x2="2078.7" y2="3723.8" stroke="#000" stroke-width="3.4"/>
<line x1="208.4" y1="3654.6" x2="208.4" y2="3687" stroke="#000" stroke-width="3.4"/>
<line x1="483.5" y1="3654.6" x2="483.5" y2="3687" stroke="#000" stroke-width="3.4"/>
<line x1="764.3" y1="3654.6" x2="764.3" y2="3687" stroke="#000" stroke-width="3.4"/>
<line x1="1046.8" y1="3654.6" x2="1046.8" y2="3687" stroke="#000" stroke-width="3.4"/>
<line x1="1328.5" y1="3654.6" x2="1328.5" y2="3687" stroke="#000" stroke-width="3.4"/>
<line x1="1602.6" y1="3654.6" x2="1602.6" y2="3687" stroke="#000" stroke-width="3.4"/>
<line x1="1884.1" y1="3654.6" x2="1884.1" y2="3687" stroke="#000" stroke-width="3.4"/>
<line x1="342.3" y1="3663.2" x2="342.3" y2="3687" stroke="#000" stroke-width="3.4"/>
<line x1="624.2" y1="3663.2" x2="624.2" y2="3687" stroke="#000" stroke-width="3.4"/>
<line x1="905.5" y1="3663.2" x2="905.5" y2="3687" stroke="#000" stroke-width="3.4"/>
<line x1="1187" y1="3663.2" x2="1187" y2="3687" stroke="#000" stroke-width="3.4"/>
<line x1="1468.5" y1="3663.2" x2="1468.5" y2="3687" stroke="#000" stroke-width="3.4"/>
<line x1="1743.4" y1="3663.2" x2="1743.4" y2="3687" stroke="#000" stroke-width="3.4"/>
<line x1="2025.3" y1="3663.2" x2="2025.3" y2="3687" stroke="#000" stroke-width="3.4"/>
<line x1="208.4" y1="3723.8" x2="208.4" y2="3756" stroke="#000" stroke-width="3.4"/>
<line x1="435.6" y1="3723.8" x2="435.6" y2="3756" stroke="#000" stroke-width="3.4"/>
<line x1="670.9" y1="3723.8" x2="670.9" y2="3756" stroke="#000" stroke-width="3.4"/>
<line x1="905.5" y1="3723.8" x2="905.5" y2="3756" stroke="#000" stroke-width="3.4"/>
<line x1="1139.6" y1="3723.8" x2="1139.6" y2="3756" stroke="#000" stroke-width="3.4"/>
<line x1="1374.9" y1="3723.8" x2="1374.9" y2="3756" stroke="#000" stroke-width="3.4"/>
<line x1="1608.5" y1="3723.8" x2="1608.5" y2="3756" stroke="#000" stroke-width="3.4"/>
<line x1="1837" y1="3723.8" x2="1837" y2="3756" stroke="#000" stroke-width="3.4"/>
<line x1="322.6" y1="3723.8" x2="322.6" y2="3739.3" stroke="#000" stroke-width="3.4"/>
<line x1="556.6" y1="3723.8" x2="556.6" y2="3739.3" stroke="#000" stroke-width="3.4"/>
<line x1="791.9" y1="3723.8" x2="791.9" y2="3739.3" stroke="#000" stroke-width="3.4"/>
<line x1="1025.9" y1="3723.8" x2="1025.9" y2="3739.3" stroke="#000" stroke-width="3.4"/>
<line x1="1254" y1="3723.8" x2="1254" y2="3739.3" stroke="#000" stroke-width="3.4"/>
<line x1="1488.4" y1="3723.8" x2="1488.4" y2="3739.3" stroke="#000" stroke-width="3.4"/>
<line x1="1723.4" y1="3723.8" x2="1723.4" y2="3739.3" stroke="#000" stroke-width="3.4"/>
<line x1="1958" y1="3723.8" x2="1958" y2="3739.3" stroke="#000" stroke-width="3.4"/>
<text transform="matrix(1.07 0 0 1 196.61 3630.91)" font-family="'Liberation Sans', Arial, sans-serif" font-weight="normal" font-size="44.63" fill="#000" stroke="#000" stroke-width="0.9" stroke-linejoin="round">0</text>
<text transform="matrix(1.08 0 0 1 435.45 3630.91)" font-family="'Liberation Sans', Arial, sans-serif" font-weight="normal" font-size="44.63" fill="#000" stroke="#000" stroke-width="0.9" stroke-linejoin="round">50</text>
<text transform="matrix(1.11 0 0 1 681.12 3630.91)" font-family="'Liberation Sans', Arial, sans-serif" font-weight="normal" font-size="44.63" fill="#000" stroke="#000" stroke-width="0.9" stroke-linejoin="round">100</text>
<text transform="matrix(1.11 0 0 1 962.42 3630.91)" font-family="'Liberation Sans', Arial, sans-serif" font-weight="normal" font-size="44.63" fill="#000" stroke="#000" stroke-width="0.9" stroke-linejoin="round">150</text>
<text transform="matrix(1.13 0 0 1 1242.38 3630.91)" font-family="'Liberation Sans', Arial, sans-serif" font-weight="normal" font-size="44.63" fill="#000" stroke="#000" stroke-width="0.9" stroke-linejoin="round">200</text>
<text transform="matrix(1.12 0 0 1 1523.98 3630.91)" font-family="'Liberation Sans', Arial, sans-serif" font-weight="normal" font-size="44.63" fill="#000" stroke="#000" stroke-width="0.9" stroke-linejoin="round">250</text>
<text transform="matrix(1.11 0 0 1 1800.12 3630.91)" font-family="'Liberation Sans', Arial, sans-serif" font-weight="normal" font-size="44.63" fill="#000" stroke="#000" stroke-width="0.9" stroke-linejoin="round">300</text>
<text transform="matrix(1.06 0 0 1 1937.15 3627.61)" font-family="'Liberation Sans', Arial, sans-serif" font-weight="normal" font-size="49.36" fill="#000" stroke="#000" stroke-width="0.9" stroke-linejoin="round">Imp.gpm</text>
<text transform="matrix(1.06 0 0 1 193.49 3819.13)" font-family="'Liberation Sans', Arial, sans-serif" font-weight="normal" font-size="43.22" fill="#000" stroke="#000" stroke-width="0.9" stroke-linejoin="round">0</text>
<text transform="matrix(1.15 0 0 1 385.03 3819.13)" font-family="'Liberation Sans', Arial, sans-serif" font-weight="normal" font-size="43.22" fill="#000" stroke="#000" stroke-width="0.9" stroke-linejoin="round">50</text>
<text transform="matrix(1.18 0 0 1 582.66 3819.13)" font-family="'Liberation Sans', Arial, sans-serif" font-weight="normal" font-size="43.22" fill="#000" stroke="#000" stroke-width="0.9" stroke-linejoin="round">100</text>
<text transform="matrix(1.16 0 0 1 818.09 3819.13)" font-family="'Liberation Sans', Arial, sans-serif" font-weight="normal" font-size="43.22" fill="#000" stroke="#000" stroke-width="0.9" stroke-linejoin="round">150</text>
<text transform="matrix(1.17 0 0 1 1052.18 3819.13)" font-family="'Liberation Sans', Arial, sans-serif" font-weight="normal" font-size="43.22" fill="#000" stroke="#000" stroke-width="0.9" stroke-linejoin="round">200</text>
<text transform="matrix(1.15 0 0 1 1287.42 3819.13)" font-family="'Liberation Sans', Arial, sans-serif" font-weight="normal" font-size="43.22" fill="#000" stroke="#000" stroke-width="0.9" stroke-linejoin="round">250</text>
<text transform="matrix(1.15 0 0 1 1522.32 3819.13)" font-family="'Liberation Sans', Arial, sans-serif" font-weight="normal" font-size="43.22" fill="#000" stroke="#000" stroke-width="0.9" stroke-linejoin="round">300</text>
<text transform="matrix(1.15 0 0 1 1756.62 3819.13)" font-family="'Liberation Sans', Arial, sans-serif" font-weight="normal" font-size="43.22" fill="#000" stroke="#000" stroke-width="0.9" stroke-linejoin="round">350</text>
<text transform="matrix(1.1 0 0 1 1888.65 3821.2)" font-family="'Liberation Sans', Arial, sans-serif" font-weight="normal" font-size="47.47" fill="#000" stroke="#000" stroke-width="0.9" stroke-linejoin="round">US.gpm</text>
<rect x="36.9" y="3927.8" width="2705.7" height="7.2" fill="#0a50ff"/>
<text transform="matrix(1.06 0 0 1 2751.2 3949.05)" font-family="'Liberation Sans', Arial, sans-serif" font-weight="normal" font-size="51.16" fill="#000" stroke="#000" stroke-width="0.9" stroke-linejoin="round">74</text>
<text transform="matrix(0.74 0 0 1 2177.59 168.97)" font-family="'Liberation Sans', Arial, sans-serif" font-weight="bold" font-size="146.75" fill="#000" stroke="#000" stroke-width="11" stroke-linejoin="miter">6</text>
<text transform="matrix(0.74 0 0 1 2248.77 176.06)" font-family="'Liberation Sans', Arial, sans-serif" font-weight="bold" font-size="144.28" fill="#000" stroke="#000" stroke-width="4" stroke-linejoin="miter">"</text>
<text transform="matrix(0.74 0 0 1 2373.69 168.97)" font-family="'Liberation Sans', Arial, sans-serif" font-weight="bold" font-size="146.75" fill="#000" stroke="#000" stroke-width="11" stroke-linejoin="miter">6</text>
<text transform="matrix(0.68 0 0 1 2448.86 168.97)" font-family="'Liberation Sans', Arial, sans-serif" font-weight="bold" font-size="146.75" fill="#000" stroke="#000" stroke-width="11" stroke-linejoin="miter">S</text>
<text transform="matrix(0.7 0 0 1 2526.76 170.4)" font-family="'Liberation Sans', Arial, sans-serif" font-weight="bold" font-size="151.02" fill="#000" stroke="#000" stroke-width="11" stroke-linejoin="miter">P</text>
<text transform="matrix(0.74 0 0 1 2613.49 168.97)" font-family="'Liberation Sans', Arial, sans-serif" font-weight="bold" font-size="146.75" fill="#000" stroke="#000" stroke-width="11" stroke-linejoin="miter">6</text>
<text transform="matrix(0.76 0 0 1 2690.57 168.97)" font-family="'Liberation Sans', Arial, sans-serif" font-weight="bold" font-size="146.75" fill="#000" stroke="#000" stroke-width="11" stroke-linejoin="miter">0</text>
<defs><linearGradient id="gOutL" x1="0" x2="1" y1="0" y2="0"><stop offset="0" stop-color="#2c4840"/><stop offset="0.35" stop-color="#55806f"/><stop offset="1" stop-color="#93b8aa"/></linearGradient><linearGradient id="gOutR" x1="0" x2="1" y1="0" y2="0"><stop offset="0" stop-color="#b4cfc5"/><stop offset="0.6" stop-color="#93b3a7"/><stop offset="1" stop-color="#5b7169"/></linearGradient><linearGradient id="gCenter" x1="0" x2="0" y1="0" y2="1"><stop offset="0" stop-color="#9cc5b7"/><stop offset="0.55" stop-color="#8db5a7"/><stop offset="1" stop-color="#7ea394"/></linearGradient><linearGradient id="gMotor" x1="0" x2="1" y1="0" y2="0"><stop offset="0" stop-color="#5a5a5a"/><stop offset="0.015" stop-color="#6e978a"/><stop offset="0.10" stop-color="#8fb3a6"/><stop offset="0.11" stop-color="#c8c8c8"/><stop offset="0.19" stop-color="#d6d6d6"/><stop offset="0.20" stop-color="#f4f4f4"/><stop offset="0.35" stop-color="#f0f0f0"/><stop offset="0.36" stop-color="#cacaca"/><stop offset="0.41" stop-color="#bdbdbd"/><stop offset="0.415" stop-color="#3a6a5b"/><stop offset="0.47" stop-color="#2e5b4d"/><stop offset="0.51" stop-color="#4f8471"/><stop offset="0.545" stop-color="#95bdae"/><stop offset="0.55" stop-color="#d2d2d2"/><stop offset="0.63" stop-color="#dedede"/><stop offset="0.64" stop-color="#f6f6f6"/><stop offset="0.88" stop-color="#f2f2f2"/><stop offset="0.89" stop-color="#d0d0d0"/><stop offset="0.95" stop-color="#b4d2c8"/><stop offset="0.985" stop-color="#9dbab0"/><stop offset="1" stop-color="#555555"/></linearGradient><linearGradient id="gMotorLow" x1="0" x2="1" y1="0" y2="0"><stop offset="0" stop-color="#555555"/><stop offset="0.02" stop-color="#6f9689"/><stop offset="0.12" stop-color="#a3c2b7"/><stop offset="0.2" stop-color="#c4c4c4"/><stop offset="0.38" stop-color="#d2d2d2"/><stop offset="0.42" stop-color="#7c9c91"/><stop offset="0.5" stop-color="#8a8a8a"/><stop offset="0.56" stop-color="#c4c4c4"/><stop offset="0.8" stop-color="#dcdcdc"/><stop offset="0.92" stop-color="#a2c8bb"/><stop offset="1" stop-color="#3a3a3a"/></linearGradient><linearGradient id="gFin" x1="0" x2="1" y1="0" y2="0"><stop offset="0" stop-color="#55776c"/><stop offset="0.2" stop-color="#86ab9e"/><stop offset="0.35" stop-color="#5f8377"/><stop offset="0.5" stop-color="#98b8ad"/><stop offset="0.65" stop-color="#62867a"/><stop offset="0.8" stop-color="#89ab9f"/><stop offset="1" stop-color="#4d6b61"/></linearGradient></defs>
<path d="M2356,629.0 Q2358,621.0 2372,620.0 L2575,620.0 Q2588,621.0 2590,631.0 L2590,1946.0 L2352,1946.0 L2352,635.0 Z" fill="#cbcbcb"/>
<rect x="2371" y="623" width="43" height="1179" fill="#c6c6c6"/>
<rect x="2371" y="623" width="13" height="1179" fill="#8fbfae"/>
<rect x="2384" y="623" width="10" height="1179" fill="#b9b9b9"/>
<rect x="2396" y="623" width="10" height="1179" fill="#dadada"/>
<rect x="2547" y="623" width="38" height="1179" fill="#cbcbcb"/>
<rect x="2547" y="623" width="4" height="1179" fill="#ececec"/>
<rect x="2560" y="623" width="10" height="1179" fill="#b7b7b7"/>
<rect x="2574" y="623" width="10" height="1179" fill="#d4d4d4"/>
<path d="M2413,623.0 L2438,623.0 L2438,1800 L2428,1800 Q2419,1700 2413,1600 Z" fill="#0b0b0b"/>
<path d="M2515,623.0 L2548,623.0 Q2547,1600 2538,1700 L2532,1800 L2515,1800 Z" fill="#0b0b0b"/>
<path d="M2372,623 L2361,624 Q2345,717.0 2361,810 L2372,811 Z" fill="url(#gOutL)"/>
<path d="M2584,623 L2587,625 Q2597,717.0 2587,810 L2584,811 Z" fill="url(#gOutR)"/>
<path d="M2437,625 L2426,625 Q2409,717.0 2426,809 L2437,809 Z" fill="#d9d9d9"/>
<path d="M2516,625 L2532,625 Q2552,717.0 2532,809 L2516,809 Z" fill="#dcdcdc"/>
<path d="M2372,815 L2361,816 Q2345,903.5 2361,991 L2372,992 Z" fill="url(#gOutL)"/>
<path d="M2584,815 L2587,817 Q2597,903.5 2587,991 L2584,992 Z" fill="url(#gOutR)"/>
<path d="M2437,817 L2426,817 Q2409,903.5 2426,990 L2437,990 Z" fill="#d9d9d9"/>
<path d="M2516,817 L2532,817 Q2552,903.5 2532,990 L2516,990 Z" fill="#dcdcdc"/>
<line x1="2352" y1="813" x2="2373" y2="813" stroke="#c8f2e4" stroke-width="3"/>
<line x1="2352" y1="816" x2="2373" y2="816" stroke="#1d3a31" stroke-width="2"/>
<line x1="2585" y1="813" x2="2591" y2="813" stroke="#dddddd" stroke-width="3"/>
<path d="M2372,996 L2361,997 Q2345,1082.5 2361,1168 L2372,1169 Z" fill="url(#gOutL)"/>
<path d="M2584,996 L2587,998 Q2597,1082.5 2587,1168 L2584,1169 Z" fill="url(#gOutR)"/>
<path d="M2437,998 L2426,998 Q2409,1082.5 2426,1167 L2437,1167 Z" fill="#d9d9d9"/>
<path d="M2516,998 L2532,998 Q2552,1082.5 2532,1167 L2516,1167 Z" fill="#dcdcdc"/>
<line x1="2352" y1="994" x2="2373" y2="994" stroke="#c8f2e4" stroke-width="3"/>
<line x1="2352" y1="997" x2="2373" y2="997" stroke="#1d3a31" stroke-width="2"/>
<line x1="2585" y1="994" x2="2591" y2="994" stroke="#dddddd" stroke-width="3"/>
<path d="M2372,1173 L2361,1174 Q2345,1257.0 2361,1340 L2372,1341 Z" fill="url(#gOutL)"/>
<path d="M2584,1173 L2587,1175 Q2597,1257.0 2587,1340 L2584,1341 Z" fill="url(#gOutR)"/>
<path d="M2437,1175 L2426,1175 Q2409,1257.0 2426,1339 L2437,1339 Z" fill="#d9d9d9"/>
<path d="M2516,1175 L2532,1175 Q2552,1257.0 2532,1339 L2516,1339 Z" fill="#dcdcdc"/>
<line x1="2352" y1="1171" x2="2373" y2="1171" stroke="#c8f2e4" stroke-width="3"/>
<line x1="2352" y1="1174" x2="2373" y2="1174" stroke="#1d3a31" stroke-width="2"/>
<line x1="2585" y1="1171" x2="2591" y2="1171" stroke="#dddddd" stroke-width="3"/>
<path d="M2372,1345 L2361,1346 Q2345,1426.5 2361,1507 L2372,1508 Z" fill="url(#gOutL)"/>
<path d="M2584,1345 L2587,1347 Q2597,1426.5 2587,1507 L2584,1508 Z" fill="url(#gOutR)"/>
<path d="M2437,1347 L2426,1347 Q2409,1426.5 2426,1506 L2437,1506 Z" fill="#d9d9d9"/>
<path d="M2516,1347 L2532,1347 Q2552,1426.5 2532,1506 L2516,1506 Z" fill="#dcdcdc"/>
<line x1="2352" y1="1343" x2="2373" y2="1343" stroke="#c8f2e4" stroke-width="3"/>
<line x1="2352" y1="1346" x2="2373" y2="1346" stroke="#1d3a31" stroke-width="2"/>
<line x1="2585" y1="1343" x2="2591" y2="1343" stroke="#dddddd" stroke-width="3"/>
<path d="M2372,1512 L2361,1513 Q2345,1591.0 2361,1669 L2372,1670 Z" fill="url(#gOutL)"/>
<path d="M2584,1512 L2587,1514 Q2597,1591.0 2587,1669 L2584,1670 Z" fill="url(#gOutR)"/>
<path d="M2437,1514 L2426,1514 Q2409,1591.0 2426,1668 L2437,1668 Z" fill="#d9d9d9"/>
<path d="M2516,1514 L2532,1514 Q2552,1591.0 2532,1668 L2516,1668 Z" fill="#dcdcdc"/>
<line x1="2352" y1="1510" x2="2373" y2="1510" stroke="#c8f2e4" stroke-width="3"/>
<line x1="2352" y1="1513" x2="2373" y2="1513" stroke="#1d3a31" stroke-width="2"/>
<line x1="2585" y1="1510" x2="2591" y2="1510" stroke="#dddddd" stroke-width="3"/>
<path d="M2372,1674 L2361,1675 Q2345,1731.0 2361,1787 L2372,1788 Z" fill="url(#gOutL)"/>
<path d="M2584,1674 L2587,1676 Q2597,1731.0 2587,1787 L2584,1788 Z" fill="url(#gOutR)"/>
<path d="M2437,1676 L2426,1676 Q2409,1731.0 2426,1786 L2437,1786 Z" fill="#d9d9d9"/>
<path d="M2516,1676 L2532,1676 Q2552,1731.0 2532,1786 L2516,1786 Z" fill="#dcdcdc"/>
<line x1="2352" y1="1672" x2="2373" y2="1672" stroke="#c8f2e4" stroke-width="3"/>
<line x1="2352" y1="1675" x2="2373" y2="1675" stroke="#1d3a31" stroke-width="2"/>
<line x1="2585" y1="1672" x2="2591" y2="1672" stroke="#dddddd" stroke-width="3"/>
<rect x="2436" y="650" width="3" height="1150" fill="#f2f2f2"/>
<rect x="2512" y="650" width="3" height="1150" fill="#f2f2f2"/>
<rect x="2439" y="650" width="73" height="1235" fill="url(#gCenter)"/>
<rect x="2439" y="650" width="6" height="1235" fill="#b9c9c3"/>
<path d="M2452,681 L2478,661 L2492,711 L2496,803 L2456,793 Z" fill="#82a99b"/>
<path d="M2452,873 L2478,853 L2492,903 L2496,984 L2456,974 Z" fill="#82a99b"/>
<path d="M2452,1054 L2478,1034 L2492,1084 L2496,1161 L2456,1151 Z" fill="#82a99b"/>
<path d="M2452,1231 L2478,1211 L2492,1261 L2496,1333 L2456,1323 Z" fill="#82a99b"/>
<path d="M2452,1403 L2478,1383 L2492,1433 L2496,1500 L2456,1490 Z" fill="#82a99b"/>
<path d="M2452,1570 L2478,1550 L2492,1600 L2496,1662 L2456,1652 Z" fill="#82a99b"/>
<rect x="2452" y="1672" width="44" height="140" fill="#86ab9e"/>
<path d="M2356,631.0 Q2360,619.0 2380,618.0 L2422,617.0 L2430,623.0 L2530,623.0 L2538,617.0 L2570,618.0 Q2588,619.0 2590,631.0 L2590,635.0 Q2586,625.0 2570,624.0 L2372,624.0 Q2360,626.0 2356,637.0 Z" fill="#16163a"/>
<path d="M2442,630 Q2442,626 2448,626 L2518,626 Q2525,626 2525,632 L2525,655 L2441,655 Z" fill="#0b0b0b"/>
<rect x="2352" y="640" width="7" height="170" fill="#151515"/>
<path d="M2352,1790 L2428,1790 L2428,1946.0 L2352,1946.0 Z" fill="#c8cfcc"/>
<path d="M2530,1790 L2590,1790 L2590,1946.0 L2530,1946.0 Z" fill="#c8cfcc"/>
<rect x="2352" y="1790" width="14" height="156" fill="#5f9483"/>
<rect x="2582" y="1790" width="8" height="156" fill="#8fb8aa"/>
<rect x="2428" y="1790" width="102" height="156" fill="#cdcdcd"/>
<rect x="2440" y="1790" width="70" height="95" fill="#93c3b2"/>
<path d="M2370,1808 L2428,1808 L2428,1915 L2370,1915 L2370,1903 L2414,1903 L2414,1872 L2374,1872 L2374,1856 L2414,1856 L2414,1822 L2370,1822 Z" fill="#0d0d0d"/>
<rect x="2370" y="1808" width="5" height="107" fill="#1a1a1a"/>
<rect x="2384" y="1828" width="28" height="16" fill="#c9d3cf"/>
<rect x="2388" y="1903" width="22" height="12" fill="#e4e4e4"/>
<path d="M2533,1808 L2582,1808 L2582,1915 L2533,1915 L2533,1903 L2564,1903 L2564,1872 L2533,1872 L2533,1856 L2566,1856 L2566,1822 L2533,1822 Z" fill="#0d0d0d"/>
<rect x="2540" y="1828" width="24" height="16" fill="#c9d3cf"/>
<rect x="2543" y="1903" width="20" height="12" fill="#e4e4e4"/>
<rect x="2356" y="1925" width="232" height="12" fill="#d6d6d6"/>
<rect x="2363" y="1937" width="222" height="22" fill="#cfd6d3"/>
<rect x="2363" y="1937" width="16" height="22" fill="#8ab4a5"/>
<rect x="2570" y="1937" width="15" height="22" fill="#9cc2b5"/>
<rect x="2386" y="1959" width="196" height="63" fill="#b9cbc4"/>
<rect x="2388" y="1959" width="24" height="63" fill="#d8d8d8"/>
<rect x="2420" y="1959" width="26" height="63" fill="#6f9d8d"/>
<rect x="2516" y="1959" width="22" height="63" fill="#5f8d7d"/>
<rect x="2548" y="1959" width="30" height="63" fill="#dadada"/>
<path d="M2449,1950 Q2449,1928 2470,1928 L2492,1928 Q2511,1928 2511,1950 L2511,1962 L2449,1962 Z" fill="#101010"/>
<rect x="2462" y="1931" width="36" height="122" fill="#1244e6"/>
<rect x="2489" y="1936" width="7" height="112" fill="#2d70f5"/>
<rect x="2342" y="2021" width="256" height="64" fill="#d2d8d5"/>
<rect x="2342" y="2021" width="256" height="8" fill="#93b5a9"/>
<rect x="2342" y="2029" width="30" height="56" fill="#6f9c8d"/>
<rect x="2560" y="2029" width="38" height="56" fill="#b2cfc5"/>
<rect x="2405" y="2044" width="34" height="22" fill="#6d8a80"/>
<rect x="2540" y="2044" width="34" height="22" fill="#6d8a80"/>
<rect x="2386" y="2036" width="20" height="26" fill="#e6e6e6"/>
<rect x="2546" y="2036" width="20" height="26" fill="#e6e6e6"/>
<path d="M2346,2080 Q2470,2100 2596,2080" fill="none" stroke="#8a9a94" stroke-width="2.5"/>
<rect x="2346" y="2085" width="249" height="890" fill="url(#gMotor)"/>
<rect x="2394" y="2600" width="40" height="330" fill="#e2e2e2"/>
<rect x="2504" y="2700" width="60" height="230" fill="#e0e0e0"/>
<polygon points="2566,2611 2595,2594 2595,2890 2564,2897" fill="#eef22c"/>
<path d="M2347,2932 Q2470,2985 2592,2932 L2592,3126 Q2470,3160 2347,3126 Z" fill="url(#gMotorLow)"/>
<path d="M2347,2932 Q2470,2985 2592,2932" fill="none" stroke="#3a3a3a" stroke-width="3"/>
<path d="M2347,2942 Q2470,2995 2592,2942" fill="none" stroke="#555" stroke-width="2"/>
<line x1="2472" y1="2965" x2="2472" y2="3150" stroke="#2a2a2a" stroke-width="3"/>
<path d="M2359,3120 Q2470,3160 2577,3120 L2577,3165 Q2470,3195 2359,3165 Z" fill="#bcc6c2"/>
<path d="M2362,3160 L2577,3160 L2575,3270 Q2560,3282 2540,3268 Q2520,3262 2500,3276 L2484,3292 L2466,3292 Q2455,3270 2440,3266 Q2410,3258 2395,3272 Q2375,3280 2366,3266 Z" fill="url(#gFin)"/>
<line x1="2357.9" y1="431.2" x2="2357.9" y2="607.6" stroke="#000" stroke-width="4.1"/>
<line x1="2588" y1="431.2" x2="2588" y2="607.6" stroke="#000" stroke-width="4.1"/>
<line x1="2362" y1="480" x2="2584" y2="480" stroke="#000" stroke-width="4.1"/>
<polygon points="2360,480 2372.4,473.4 2372.4,486.6" fill="#000"/>
<polygon points="2586,480 2573.6,473.4 2573.6,486.6" fill="#000"/>
<line x1="2396.1" y1="550.9" x2="2396.1" y2="607.6" stroke="#000" stroke-width="4.3"/>
<line x1="2546.3" y1="550.9" x2="2546.3" y2="607.6" stroke="#000" stroke-width="4.3"/>
<line x1="2400.4" y1="588.7" x2="2542" y2="588.7" stroke="#000" stroke-width="4.1"/>
<polygon points="2398.4,588.7 2410.8,582.1 2410.8,595.3" fill="#000"/>
<polygon points="2544,588.7 2531.6,582.1 2531.6,595.3" fill="#000"/>
<text transform="matrix(1.06 0 0 1 2395.54 456.84)" font-family="'Liberation Sans', Arial, sans-serif" font-weight="normal" font-size="51.6" fill="#000" stroke="#000" stroke-width="0.9" stroke-linejoin="round">ϕ</text>
<text transform="matrix(1 0 0 1 2439.86 457.09)" font-family="'Liberation Sans', Arial, sans-serif" font-weight="bold" font-size="52.16" letter-spacing="7.96" fill="#000" stroke="#000" stroke-width="1.6" stroke-linejoin="round">max</text>
<text transform="matrix(1.1 0 0 1 2427.86 561.57)" font-family="'Liberation Sans', Arial, sans-serif" font-weight="normal" font-size="51.92" fill="#000" stroke="#000" stroke-width="0.9" stroke-linejoin="round">ϕ</text>
<text transform="matrix(0.98 0 0 1 2472.74 561.3)" font-family="'Liberation Sans', Arial, sans-serif" font-weight="bold" font-size="55.52" fill="#000" stroke="#000" stroke-width="2.4" stroke-linejoin="round">D</text>
<line x1="2345.1" y1="3289.4" x2="2345.1" y2="3421.9" stroke="#000" stroke-width="4.5"/>
<line x1="2592.3" y1="3289.4" x2="2592.3" y2="3421.9" stroke="#000" stroke-width="4.5"/>
<line x1="2349.5" y1="3383.8" x2="2588" y2="3383.8" stroke="#000" stroke-width="4.5"/>
<polygon points="2347.5,3383.8 2360.5,3376.8 2360.5,3390.8" fill="#000"/>
<polygon points="2590,3383.8 2577,3376.8 2577,3390.8" fill="#000"/>
<text transform="matrix(1.04 0 0 1 2427.75 3361.92)" font-family="'Liberation Sans', Arial, sans-serif" font-weight="normal" font-size="59.43" fill="#000" stroke="#000" stroke-width="0.9" stroke-linejoin="round">ϕ</text>
<text transform="matrix(0.95 0 0 1 2479.3 3362.6)" font-family="'Liberation Sans', Arial, sans-serif" font-weight="bold" font-size="65.12" fill="#000" stroke="#000" stroke-width="2.4" stroke-linejoin="round">E</text>
<line x1="2602" y1="621.4" x2="2801" y2="621.4" stroke="#000" stroke-width="5.2"/>
<line x1="2603.7" y1="1930.3" x2="2722.6" y2="1930.3" stroke="#000" stroke-width="5.2"/>
<line x1="2602" y1="3294.1" x2="2801.7" y2="3294.1" stroke="#000" stroke-width="5.2"/>
<line x1="2666.5" y1="626" x2="2666.5" y2="1926" stroke="#000" stroke-width="5"/>
<polygon points="2666.5,624 2659.5,640 2673.5,640" fill="#000"/>
<polygon points="2666.5,1928 2659.5,1912 2673.5,1912" fill="#000"/>
<line x1="2666.5" y1="1934.6" x2="2666.5" y2="3289.8" stroke="#000" stroke-width="5"/>
<polygon points="2666.5,1932.6 2659.5,1948.6 2673.5,1948.6" fill="#000"/>
<polygon points="2666.5,3291.8 2659.5,3275.8 2673.5,3275.8" fill="#000"/>
<line x1="2754" y1="626" x2="2754" y2="3289.8" stroke="#000" stroke-width="5"/>
<polygon points="2754,624 2747,640 2761,640" fill="#000"/>
<polygon points="2754,3291.8 2747,3275.8 2761,3275.8" fill="#000"/>
<text transform="matrix(0 -0.91 1 0 2655.7 1294.41)" font-family="'Liberation Sans', Arial, sans-serif" font-weight="bold" font-size="61.58" fill="#000">C</text>
<text transform="matrix(0 -0.96 1 0 2740.7 2183.14)" font-family="'Liberation Sans', Arial, sans-serif" font-weight="bold" font-size="59.88" fill="#000">A</text>
<text transform="matrix(0 -0.93 1 0 2655.2 2631.11)" font-family="'Liberation Sans', Arial, sans-serif" font-weight="bold" font-size="59.88" fill="#000">B</text>
</svg>
</body></html>
